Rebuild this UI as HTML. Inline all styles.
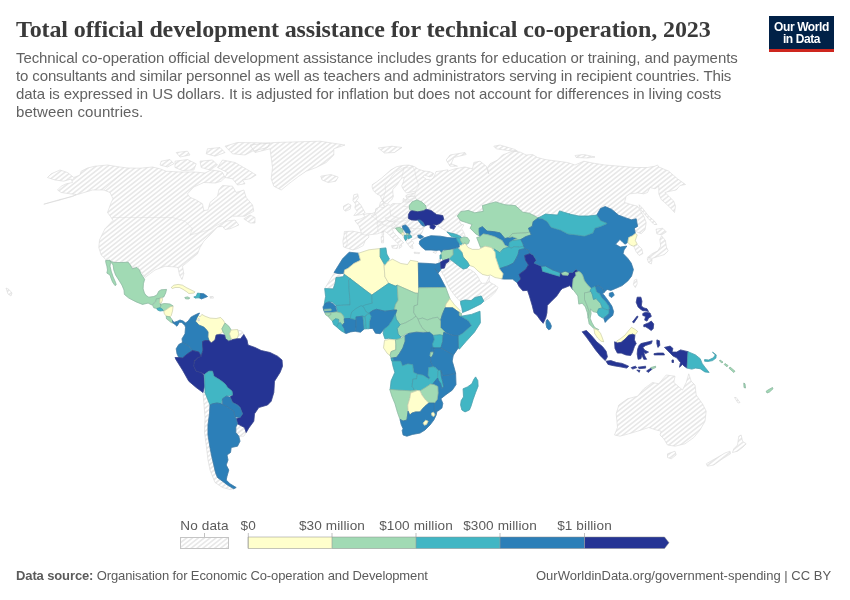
<!DOCTYPE html>
<html><head><meta charset="utf-8">
<style>
html,body{margin:0;padding:0;background:#fff;}
body{width:850px;height:600px;overflow:hidden;position:relative;font-family:"Liberation Sans",sans-serif;}
#title{position:absolute;left:16px;top:14.5px;margin:0;font-family:"Liberation Serif",serif;font-weight:bold;font-size:24px;line-height:29px;color:#3a3a3a;white-space:nowrap;letter-spacing:-0.115px;}
#sub{position:absolute;left:16px;top:49px;margin:0;font-size:15px;line-height:18px;color:#626262;white-space:nowrap;}
#logo{position:absolute;left:769px;top:16px;width:65px;height:33px;background:#002147;border-bottom:3px solid #ce261e;color:#fff;font-weight:bold;font-size:12px;line-height:12px;text-align:center;letter-spacing:-0.4px;}
#logo span{display:block;}
#logo .a{padding-top:4.5px;}
.ft{position:absolute;top:568.3px;font-size:13px;line-height:16px;color:#5b5b5b;white-space:nowrap;}
#map{position:absolute;left:0;top:0;}
#title,#sub,#logo,.ft,#map{will-change:transform;opacity:0.999;}
</style></head><body>
<h1 id="title">Total official development assistance for technical co-operation, 2023</h1>
<div id="sub"><span style="letter-spacing:-0.085px">Technical co-operation official development assistance includes grants for education or training, and payments</span><br><span style="letter-spacing:-0.125px">to consultants and similar personnel as well as teachers and administrators serving in recipient countries. This</span><br><span style="letter-spacing:-0.065px">data is expressed in US dollars. It is adjusted for inflation but does not account for differences in living costs</span><br><span style="letter-spacing:0.08px">between countries.</span></div>
<div id="logo"><span class="a">Our World</span><span>in Data</span></div>
<svg id="map" width="850" height="600" viewBox="0 0 850 600">
<defs>

</defs>
<!--MAP-->
<clipPath id="nd"><path d="M352.9 250.0L348.2 248.5L343.5 247.0L342.9 240.9L344.0 235.3L344.4 231.5L352.9 231.2L361.4 233.0L359.1 225.9L354.8 220.6L361.4 218.7L365.1 216.5L363.2 214.6L367.9 213.6L371.7 213.6L375.5 212.3L375.7 208.8L379.2 207.1L380.4 202.3L382.8 200.6L384.2 202.3L383.7 205.9L385.7 206.1L388.1 204.7L390.4 205.3L392.8 203.5L397.0 203.8L401.1 203.5L402.9 201.7L403.5 198.2L405.2 200.0L407.0 198.8L405.8 195.8L407.6 194.6L410.6 194.1L415.3 192.6L414.7 191.1L409.4 192.6L406.4 192.9L405.2 191.7L402.9 188.7L401.7 185.8L403.5 181.6L404.1 177.5L401.7 178.1L399.3 181.6L396.4 185.8L392.8 189.3L392.8 192.9L393.4 196.4L391.6 200.0L389.3 201.7L387.5 204.1L385.1 203.5L382.8 201.7L381.6 198.8L379.8 195.2L376.8 194.1L373.3 190.5L372.1 187.0L372.3 184.6L376.2 182.2L381.6 178.1L386.3 173.9L391.0 169.8L396.4 166.8L402.9 165.4L408.8 165.1L412.3 165.9L414.7 166.8L418.3 169.2L424.2 171.0L429.5 171.6L433.6 173.3L432.5 175.7L429.5 176.9L426.5 175.7L424.2 175.1L423.0 176.9L426.5 179.3L430.7 179.9L433.0 178.1L434.8 175.1L436.0 171.6L440.7 171.0L447.8 169.8L447.5 171.2L455.0 168.8L465.0 167.0L472.5 168.8L473.8 162.5L480.0 161.2L486.2 166.2L488.8 173.8L487.5 167.5L490.0 163.8L497.5 160.0L502.5 155.0L512.5 151.2L520.0 152.0L526.2 155.0L532.5 154.5L537.5 157.5L545.0 159.5L557.5 161.2L567.5 162.5L575.0 165.0L583.8 161.2L592.5 163.0L605.0 165.0L620.0 166.2L635.0 167.5L647.5 167.5L655.0 166.2L657.5 165.0L658.8 167.0L668.8 171.2L677.5 178.8L685.5 184.5L680.0 185.5L676.2 190.0L670.0 191.2L665.0 192.5L670.0 197.5L673.8 201.2L675.5 206.2L674.5 212.5L671.2 208.8L666.2 203.8L661.2 199.5L658.8 193.8L658.8 186.2L655.0 188.8L650.0 187.5L647.5 192.5L643.8 193.8L637.5 193.0L630.0 193.8L626.2 196.2L624.5 202.5L631.2 204.5L637.5 206.2L640.0 210.0L643.8 216.2L646.2 222.5L645.0 230.0L641.2 233.8L638.0 232.5L620.0 222.0L590.0 217.0L550.0 217.0L510.0 214.0L470.0 214.0L458.0 216.0L458.3 216.5L460.7 224.0L463.9 224.9L461.5 228.7L463.9 232.5L465.3 236.2L459.2 235.7L452.6 233.0L447.6 231.9L442.3 228.7L437.6 225.9L439.5 224.0L434.8 224.0L431.0 222.1L425.4 224.9L423.5 228.7L422.0 232.5L420.6 234.9L417.8 235.3L417.8 237.6L415.0 238.7L411.2 240.0L414.1 242.8L412.2 244.7L413.1 248.5L410.3 247.5L407.5 243.8L405.6 240.9L404.3 238.7L402.8 235.7L399.0 232.5L396.2 228.7L394.3 227.8L392.4 229.6L393.7 232.5L397.1 236.2L400.9 240.0L403.7 242.8L401.3 243.8L401.8 246.6L399.0 248.5L399.9 245.6L397.1 242.8L393.4 239.1L389.6 235.3L386.8 232.5L384.3 231.2L381.1 232.5L377.4 233.8L372.6 234.4L368.5 234.9L368.9 237.2L365.1 240.9L363.2 245.6L357.6 248.5Z M43.8 204.2L60.0 199.5L72.5 196.5L76.2 194.5L70.0 193.8L61.2 192.5L57.5 190.0L61.2 186.2L66.2 183.8L72.5 182.5L71.2 179.0L63.8 181.2L55.0 180.0L47.5 177.5L51.2 173.8L60.0 170.0L67.5 172.5L73.8 177.5L80.0 175.0L81.2 171.2L87.5 168.0L95.0 166.2L107.5 165.0L120.0 167.0L127.5 168.0L140.0 168.2L152.5 167.0L160.0 168.8L166.2 171.2L180.0 172.0L195.0 172.0L205.0 173.0L211.2 170.0L220.0 171.2L222.5 172.5L225.0 177.5L221.2 181.2L215.5 183.0L203.8 182.5L193.8 187.0L187.5 193.8L189.5 197.0L196.2 200.0L202.5 203.8L203.8 210.5L208.0 210.0L210.0 202.5L217.5 196.2L219.0 189.5L222.5 185.5L232.5 186.2L236.2 192.5L243.8 190.0L246.2 197.5L252.5 205.0L253.8 211.2L248.8 213.8L245.0 216.2L232.5 216.2L225.0 221.2L235.0 220.0L238.8 225.0L230.0 228.8L225.0 229.5L222.5 226.2L217.5 227.0L210.0 235.0L203.8 241.2L200.0 247.5L197.5 253.8L190.0 260.0L182.5 266.2L183.8 273.8L182.0 279.5L179.5 275.0L178.0 267.5L175.0 267.0L165.0 266.2L155.0 270.0L145.0 277.5L142.5 273.8L137.5 267.0L132.5 267.5L128.8 262.5L117.5 262.5L106.2 260.0L101.2 255.0L98.8 247.5L99.5 240.0L105.0 228.8L113.0 220.5L111.2 217.5L107.5 212.5L111.2 202.5L113.0 198.8L110.0 192.5L103.8 190.0L92.5 190.0L77.5 194.5L60.0 200.0Z M270.0 148.8L255.0 152.5L250.0 145.0L275.0 142.5L320.0 141.2L345.0 145.0L333.8 148.8L333.8 155.0L326.2 162.5L316.2 167.5L306.2 171.2L298.8 176.2L288.8 183.8L281.2 190.0L273.8 186.2L271.2 178.8L272.5 167.5L271.2 157.5Z M320.8 176.2L330.8 174.5L338.2 177.0L335.8 181.2L328.2 182.5L322.0 180.0Z M243.8 218.8L250.0 215.0L255.0 217.5L255.0 223.0L250.0 223.0Z M222.5 160.0L235.0 162.5L250.0 171.2L256.2 175.0L250.0 178.8L242.5 180.0L245.0 183.8L237.5 185.0L232.5 178.8L225.0 177.5L227.5 172.5L217.5 167.5Z M175.0 161.2L187.5 159.5L196.2 163.8L193.8 170.0L182.5 170.5L175.0 167.5Z M161.2 161.2L170.0 159.5L173.8 163.8L167.5 167.0L160.0 165.0Z M225.0 146.2L237.5 142.5L270.0 143.0L267.5 147.5L252.5 151.2L245.0 155.0L232.5 153.8Z M200.0 161.2L212.5 160.0L217.5 165.0L210.0 170.0L201.2 167.5Z M207.5 148.8L220.0 147.5L225.0 152.5L215.0 156.2L206.2 153.8Z M176.2 152.5L187.5 151.2L190.0 155.0L180.0 157.0Z M210.0 296.5L213.1 296.5L213.5 298.1L210.2 298.2Z M237.5 330.0L242.0 331.2L243.8 334.5L240.5 338.8L237.0 338.8L238.8 333.8Z M237.5 423.8L244.5 427.5L246.2 432.5L243.8 436.2L238.8 436.2L235.8 432.5L235.8 427.0Z M203.0 392.5L205.0 392.5L207.0 397.5L210.0 405.0L209.5 413.8L208.0 425.0L208.0 435.0L210.0 447.5L212.0 457.5L213.8 465.0L215.5 472.5L217.5 477.5L222.5 481.2L227.5 485.0L233.8 488.8L230.0 489.5L222.5 487.5L215.0 482.5L210.0 470.0L208.0 460.0L206.2 445.0L204.5 432.5L205.0 417.5L203.8 402.5Z M324.7 288.6L334.1 273.1L343.5 273.5L343.5 276.7L336.0 277.6L335.1 283.3L333.2 288.9Z M633.8 246.3L637.6 244.8L641.9 248.9L642.8 253.6L639.1 255.5L636.2 251.8Z M656.0 229.2L662.6 228.2L666.4 232.0L661.6 234.8L656.9 233.9Z M661.6 235.8L665.4 240.5L666.4 247.1L668.2 250.8L664.5 254.6L657.9 256.5L652.2 258.4L647.5 257.4L652.2 253.6L657.9 250.8L660.7 246.1L659.8 239.5Z M647.2 258.7L652.2 259.5L651.3 264.0L648.5 262.5Z M639.1 204.7L642.8 208.5L648.5 216.0L654.1 220.7L656.9 224.5L654.1 224.5L648.5 218.8L643.8 213.2L640.0 208.5Z M634.4 280.0L636.8 279.1L637.2 283.8L635.3 287.5L633.4 284.7Z M439.0 259.4L440.6 259.0L440.6 268.5L440.0 269.4L438.8 265.0Z M440.0 269.4L441.0 268.5L444.4 268.1L445.6 263.8L449.0 261.2L451.9 260.6L457.5 265.0L463.1 269.0L466.9 268.1L468.1 269.0L470.6 269.8L475.0 272.8L478.5 277.5L480.0 281.5L482.5 283.4L486.2 283.1L488.2 279.0L489.5 276.2L489.0 280.0L490.0 282.5L495.0 285.0L498.1 287.5L495.0 292.5L490.0 297.5L485.0 300.6L483.8 301.2L481.2 296.0L475.0 297.5L471.2 300.6L465.0 300.0L460.6 301.2L460.0 301.2L457.5 298.8L454.4 295.0L450.6 290.0L446.9 283.1L445.0 277.5L441.9 272.5Z M353.8 194.8L357.6 193.9L358.5 197.6L356.6 200.5L360.4 204.2L363.2 209.3L365.1 212.7L361.4 214.6L353.8 215.5L357.2 211.2L354.8 208.0L355.7 204.2L352.9 200.5Z M343.5 206.1L348.2 203.7L351.0 205.2L350.1 209.3L345.4 211.2L343.5 209.3Z M381.1 236.8L383.6 236.2L383.6 242.8L381.5 242.8Z M382.1 231.5L383.6 231.2L383.6 235.3L382.1 235.3Z M391.5 245.6L398.1 245.1L397.1 248.5L392.4 248.1Z M414.1 252.2L419.7 252.6L419.3 253.7L414.4 253.4Z M432.9 252.2L437.0 251.1L435.9 253.4Z M378.2 148.0L392.0 146.2L402.0 147.5L394.5 152.5L384.5 153.0Z M446.2 160.0L450.0 155.0L465.0 152.5L466.2 154.5L453.8 157.5L451.2 163.8L457.5 166.2L450.0 166.2Z M493.8 146.2L500.0 145.0L515.0 149.5L517.5 151.2L507.5 150.5L496.2 148.8Z M575.0 155.5L583.8 154.5L595.0 157.0L587.5 158.0L576.2 157.5Z M614.5 435.0L617.5 427.5L616.2 413.8L618.8 405.0L627.5 398.8L637.5 396.2L643.8 388.8L652.5 382.5L658.8 383.8L666.2 375.0L675.0 376.2L673.8 382.5L682.5 390.0L686.2 382.5L688.8 373.8L691.2 381.2L695.0 385.0L696.2 395.0L702.5 403.8L706.2 411.2L705.0 421.2L700.0 430.0L693.8 437.5L685.0 443.8L675.0 446.2L667.5 445.0L663.8 438.8L660.0 435.0L661.2 431.2L656.2 430.0L648.8 427.5L637.5 431.2L628.8 433.8L620.0 436.2Z M667.5 453.8L675.0 451.2L676.2 455.0L671.2 458.8L667.5 457.5Z M738.8 436.2L741.2 435.0L742.5 441.2L746.2 443.8L742.5 447.5L737.5 451.2L732.5 452.5L733.8 448.8L737.5 445.0Z M706.2 463.8L715.0 458.8L725.0 453.0L730.0 451.2L730.5 453.8L722.5 458.8L713.8 465.0L707.5 466.2Z M734.5 397.5L736.2 397.5L740.0 402.5L738.0 403.0Z M6.0 288.0L9.0 289.5L12.0 293.0L11.0 296.0L8.0 294.0Z M180.5 537.5h48v11h-48Z"/></clipPath>
<g stroke-linejoin="round">
<path d="M-563.44 560 L-10.00 125 M-557.57 560 L-4.13 125 M-551.70 560 L1.74 125 M-545.83 560 L7.61 125 M-539.96 560 L13.48 125 M-534.09 560 L19.35 125 M-528.22 560 L25.22 125 M-522.35 560 L31.09 125 M-516.48 560 L36.96 125 M-510.61 560 L42.83 125 M-504.74 560 L48.70 125 M-498.87 560 L54.57 125 M-493.00 560 L60.44 125 M-487.13 560 L66.31 125 M-481.26 560 L72.18 125 M-475.39 560 L78.05 125 M-469.52 560 L83.92 125 M-463.65 560 L89.79 125 M-457.78 560 L95.66 125 M-451.91 560 L101.53 125 M-446.04 560 L107.40 125 M-440.17 560 L113.27 125 M-434.30 560 L119.14 125 M-428.43 560 L125.01 125 M-422.56 560 L130.88 125 M-416.69 560 L136.75 125 M-410.82 560 L142.62 125 M-404.95 560 L148.49 125 M-399.08 560 L154.36 125 M-393.21 560 L160.23 125 M-387.34 560 L166.10 125 M-381.47 560 L171.97 125 M-375.60 560 L177.84 125 M-369.73 560 L183.71 125 M-363.86 560 L189.58 125 M-357.99 560 L195.45 125 M-352.12 560 L201.32 125 M-346.25 560 L207.19 125 M-340.38 560 L213.06 125 M-334.51 560 L218.93 125 M-328.64 560 L224.80 125 M-322.77 560 L230.67 125 M-316.90 560 L236.54 125 M-311.03 560 L242.41 125 M-305.16 560 L248.28 125 M-299.29 560 L254.15 125 M-293.42 560 L260.02 125 M-287.55 560 L265.89 125 M-281.68 560 L271.76 125 M-275.81 560 L277.63 125 M-269.94 560 L283.50 125 M-264.07 560 L289.37 125 M-258.20 560 L295.24 125 M-252.33 560 L301.11 125 M-246.46 560 L306.98 125 M-240.59 560 L312.85 125 M-234.72 560 L318.72 125 M-228.85 560 L324.59 125 M-222.98 560 L330.46 125 M-217.11 560 L336.33 125 M-211.24 560 L342.20 125 M-205.37 560 L348.07 125 M-199.50 560 L353.94 125 M-193.63 560 L359.81 125 M-187.76 560 L365.68 125 M-181.89 560 L371.55 125 M-176.02 560 L377.42 125 M-170.15 560 L383.29 125 M-164.28 560 L389.16 125 M-158.41 560 L395.03 125 M-152.54 560 L400.90 125 M-146.67 560 L406.77 125 M-140.80 560 L412.64 125 M-134.93 560 L418.51 125 M-129.06 560 L424.38 125 M-123.19 560 L430.25 125 M-117.32 560 L436.12 125 M-111.45 560 L441.99 125 M-105.58 560 L447.86 125 M-99.71 560 L453.73 125 M-93.84 560 L459.60 125 M-87.97 560 L465.47 125 M-82.10 560 L471.34 125 M-76.23 560 L477.21 125 M-70.36 560 L483.08 125 M-64.49 560 L488.95 125 M-58.62 560 L494.82 125 M-52.75 560 L500.69 125 M-46.88 560 L506.56 125 M-41.01 560 L512.43 125 M-35.14 560 L518.30 125 M-29.27 560 L524.17 125 M-23.40 560 L530.04 125 M-17.53 560 L535.91 125 M-11.66 560 L541.78 125 M-5.79 560 L547.65 125 M0.08 560 L553.52 125 M5.95 560 L559.39 125 M11.82 560 L565.26 125 M17.69 560 L571.13 125 M23.56 560 L577.00 125 M29.43 560 L582.87 125 M35.30 560 L588.74 125 M41.17 560 L594.61 125 M47.04 560 L600.48 125 M52.91 560 L606.35 125 M58.78 560 L612.22 125 M64.65 560 L618.09 125 M70.52 560 L623.96 125 M76.39 560 L629.83 125 M82.26 560 L635.70 125 M88.13 560 L641.57 125 M94.00 560 L647.44 125 M99.87 560 L653.31 125 M105.74 560 L659.18 125 M111.61 560 L665.05 125 M117.48 560 L670.92 125 M123.35 560 L676.79 125 M129.22 560 L682.66 125 M135.09 560 L688.53 125 M140.96 560 L694.40 125 M146.83 560 L700.27 125 M152.70 560 L706.14 125 M158.57 560 L712.01 125 M164.44 560 L717.88 125 M170.31 560 L723.75 125 M176.18 560 L729.62 125 M182.05 560 L735.49 125 M187.92 560 L741.36 125 M193.79 560 L747.23 125 M199.66 560 L753.10 125 M205.53 560 L758.97 125 M211.40 560 L764.84 125 M217.27 560 L770.71 125 M223.14 560 L776.58 125 M229.01 560 L782.45 125 M234.88 560 L788.32 125 M240.75 560 L794.19 125 M246.62 560 L800.06 125 M252.49 560 L805.93 125 M258.36 560 L811.80 125 M264.23 560 L817.67 125 M270.10 560 L823.54 125 M275.97 560 L829.41 125 M281.84 560 L835.28 125 M287.71 560 L841.15 125 M293.58 560 L847.02 125 M299.45 560 L852.89 125 M305.32 560 L858.76 125 M311.19 560 L864.63 125 M317.06 560 L870.50 125 M322.93 560 L876.37 125 M328.80 560 L882.24 125 M334.67 560 L888.11 125 M340.54 560 L893.98 125 M346.41 560 L899.85 125 M352.28 560 L905.72 125 M358.15 560 L911.59 125 M364.02 560 L917.46 125 M369.89 560 L923.33 125 M375.76 560 L929.20 125 M381.63 560 L935.07 125 M387.50 560 L940.94 125 M393.37 560 L946.81 125 M399.24 560 L952.68 125 M405.11 560 L958.55 125 M410.98 560 L964.42 125 M416.85 560 L970.29 125 M422.72 560 L976.16 125 M428.59 560 L982.03 125 M434.46 560 L987.90 125 M440.33 560 L993.77 125 M446.20 560 L999.64 125 M452.07 560 L1005.51 125 M457.94 560 L1011.38 125 M463.81 560 L1017.25 125 M469.68 560 L1023.12 125 M475.55 560 L1028.99 125 M481.42 560 L1034.86 125 M487.29 560 L1040.73 125 M493.16 560 L1046.60 125 M499.03 560 L1052.47 125 M504.90 560 L1058.34 125 M510.77 560 L1064.21 125 M516.64 560 L1070.08 125 M522.51 560 L1075.95 125 M528.38 560 L1081.82 125 M534.25 560 L1087.69 125 M540.12 560 L1093.56 125 M545.99 560 L1099.43 125 M551.86 560 L1105.30 125 M557.73 560 L1111.17 125 M563.60 560 L1117.04 125 M569.47 560 L1122.91 125 M575.34 560 L1128.78 125 M581.21 560 L1134.65 125 M587.08 560 L1140.52 125 M592.95 560 L1146.39 125 M598.82 560 L1152.26 125 M604.69 560 L1158.13 125 M610.56 560 L1164.00 125 M616.43 560 L1169.87 125 M622.30 560 L1175.74 125 M628.17 560 L1181.61 125 M634.04 560 L1187.48 125 M639.91 560 L1193.35 125 M645.78 560 L1199.22 125 M651.65 560 L1205.09 125 M657.52 560 L1210.96 125 M663.39 560 L1216.83 125 M669.26 560 L1222.70 125 M675.13 560 L1228.57 125 M681.00 560 L1234.44 125 M686.87 560 L1240.31 125 M692.74 560 L1246.18 125 M698.61 560 L1252.05 125 M704.48 560 L1257.92 125 M710.35 560 L1263.79 125 M716.22 560 L1269.66 125 M722.09 560 L1275.53 125 M727.96 560 L1281.40 125 M733.83 560 L1287.27 125 M739.70 560 L1293.14 125 M745.57 560 L1299.01 125 M751.44 560 L1304.88 125 M757.31 560 L1310.75 125 M763.18 560 L1316.62 125 M769.05 560 L1322.49 125 M774.92 560 L1328.36 125 M780.79 560 L1334.23 125 M786.66 560 L1340.10 125 M792.53 560 L1345.97 125 M798.40 560 L1351.84 125 M804.27 560 L1357.71 125 M810.14 560 L1363.58 125 M816.01 560 L1369.45 125 M821.88 560 L1375.32 125 M827.75 560 L1381.19 125 M833.62 560 L1387.06 125 M839.49 560 L1392.93 125 M845.36 560 L1398.80 125 M851.23 560 L1404.67 125 M857.10 560 L1410.54 125" fill="none" stroke="#e8e8e8" stroke-width="1.65" clip-path="url(#nd)"/>
<path d="M460.7 226.4L466.4 223.5L471.1 225.4L470.1 229.2L474.8 234.8L477.6 237.6L478.6 242.4L479.5 247.1L474.8 248.6L471.1 248.0L470.1 243.3L468.2 240.5L464.5 236.7L463.5 232.0L461.1 229.2Z" fill="#fff"/>
<path d="M352.9 250.0L348.2 248.5L343.5 247.0L342.9 240.9L344.0 235.3L344.4 231.5L352.9 231.2L361.4 233.0L359.1 225.9L354.8 220.6L361.4 218.7L365.1 216.5L363.2 214.6L367.9 213.6L371.7 213.6L375.5 212.3L375.7 208.8L379.2 207.1L380.4 202.3L382.8 200.6L384.2 202.3L383.7 205.9L385.7 206.1L388.1 204.7L390.4 205.3L392.8 203.5L397.0 203.8L401.1 203.5L402.9 201.7L403.5 198.2L405.2 200.0L407.0 198.8L405.8 195.8L407.6 194.6L410.6 194.1L415.3 192.6L414.7 191.1L409.4 192.6L406.4 192.9L405.2 191.7L402.9 188.7L401.7 185.8L403.5 181.6L404.1 177.5L401.7 178.1L399.3 181.6L396.4 185.8L392.8 189.3L392.8 192.9L393.4 196.4L391.6 200.0L389.3 201.7L387.5 204.1L385.1 203.5L382.8 201.7L381.6 198.8L379.8 195.2L376.8 194.1L373.3 190.5L372.1 187.0L372.3 184.6L376.2 182.2L381.6 178.1L386.3 173.9L391.0 169.8L396.4 166.8L402.9 165.4L408.8 165.1L412.3 165.9L414.7 166.8L418.3 169.2L424.2 171.0L429.5 171.6L433.6 173.3L432.5 175.7L429.5 176.9L426.5 175.7L424.2 175.1L423.0 176.9L426.5 179.3L430.7 179.9L433.0 178.1L434.8 175.1L436.0 171.6L440.7 171.0L447.8 169.8L447.5 171.2L455.0 168.8L465.0 167.0L472.5 168.8L473.8 162.5L480.0 161.2L486.2 166.2L488.8 173.8L487.5 167.5L490.0 163.8L497.5 160.0L502.5 155.0L512.5 151.2L520.0 152.0L526.2 155.0L532.5 154.5L537.5 157.5L545.0 159.5L557.5 161.2L567.5 162.5L575.0 165.0L583.8 161.2L592.5 163.0L605.0 165.0L620.0 166.2L635.0 167.5L647.5 167.5L655.0 166.2L657.5 165.0L658.8 167.0L668.8 171.2L677.5 178.8L685.5 184.5L680.0 185.5L676.2 190.0L670.0 191.2L665.0 192.5L670.0 197.5L673.8 201.2L675.5 206.2L674.5 212.5L671.2 208.8L666.2 203.8L661.2 199.5L658.8 193.8L658.8 186.2L655.0 188.8L650.0 187.5L647.5 192.5L643.8 193.8L637.5 193.0L630.0 193.8L626.2 196.2L624.5 202.5L631.2 204.5L637.5 206.2L640.0 210.0L643.8 216.2L646.2 222.5L645.0 230.0L641.2 233.8L638.0 232.5L620.0 222.0L590.0 217.0L550.0 217.0L510.0 214.0L470.0 214.0L458.0 216.0L458.3 216.5L460.7 224.0L463.9 224.9L461.5 228.7L463.9 232.5L465.3 236.2L459.2 235.7L452.6 233.0L447.6 231.9L442.3 228.7L437.6 225.9L439.5 224.0L434.8 224.0L431.0 222.1L425.4 224.9L423.5 228.7L422.0 232.5L420.6 234.9L417.8 235.3L417.8 237.6L415.0 238.7L411.2 240.0L414.1 242.8L412.2 244.7L413.1 248.5L410.3 247.5L407.5 243.8L405.6 240.9L404.3 238.7L402.8 235.7L399.0 232.5L396.2 228.7L394.3 227.8L392.4 229.6L393.7 232.5L397.1 236.2L400.9 240.0L403.7 242.8L401.3 243.8L401.8 246.6L399.0 248.5L399.9 245.6L397.1 242.8L393.4 239.1L389.6 235.3L386.8 232.5L384.3 231.2L381.1 232.5L377.4 233.8L372.6 234.4L368.5 234.9L368.9 237.2L365.1 240.9L363.2 245.6L357.6 248.5Z M43.8 204.2L60.0 199.5L72.5 196.5L76.2 194.5L70.0 193.8L61.2 192.5L57.5 190.0L61.2 186.2L66.2 183.8L72.5 182.5L71.2 179.0L63.8 181.2L55.0 180.0L47.5 177.5L51.2 173.8L60.0 170.0L67.5 172.5L73.8 177.5L80.0 175.0L81.2 171.2L87.5 168.0L95.0 166.2L107.5 165.0L120.0 167.0L127.5 168.0L140.0 168.2L152.5 167.0L160.0 168.8L166.2 171.2L180.0 172.0L195.0 172.0L205.0 173.0L211.2 170.0L220.0 171.2L222.5 172.5L225.0 177.5L221.2 181.2L215.5 183.0L203.8 182.5L193.8 187.0L187.5 193.8L189.5 197.0L196.2 200.0L202.5 203.8L203.8 210.5L208.0 210.0L210.0 202.5L217.5 196.2L219.0 189.5L222.5 185.5L232.5 186.2L236.2 192.5L243.8 190.0L246.2 197.5L252.5 205.0L253.8 211.2L248.8 213.8L245.0 216.2L232.5 216.2L225.0 221.2L235.0 220.0L238.8 225.0L230.0 228.8L225.0 229.5L222.5 226.2L217.5 227.0L210.0 235.0L203.8 241.2L200.0 247.5L197.5 253.8L190.0 260.0L182.5 266.2L183.8 273.8L182.0 279.5L179.5 275.0L178.0 267.5L175.0 267.0L165.0 266.2L155.0 270.0L145.0 277.5L142.5 273.8L137.5 267.0L132.5 267.5L128.8 262.5L117.5 262.5L106.2 260.0L101.2 255.0L98.8 247.5L99.5 240.0L105.0 228.8L113.0 220.5L111.2 217.5L107.5 212.5L111.2 202.5L113.0 198.8L110.0 192.5L103.8 190.0L92.5 190.0L77.5 194.5L60.0 200.0Z M270.0 148.8L255.0 152.5L250.0 145.0L275.0 142.5L320.0 141.2L345.0 145.0L333.8 148.8L333.8 155.0L326.2 162.5L316.2 167.5L306.2 171.2L298.8 176.2L288.8 183.8L281.2 190.0L273.8 186.2L271.2 178.8L272.5 167.5L271.2 157.5Z M320.8 176.2L330.8 174.5L338.2 177.0L335.8 181.2L328.2 182.5L322.0 180.0Z M243.8 218.8L250.0 215.0L255.0 217.5L255.0 223.0L250.0 223.0Z M222.5 160.0L235.0 162.5L250.0 171.2L256.2 175.0L250.0 178.8L242.5 180.0L245.0 183.8L237.5 185.0L232.5 178.8L225.0 177.5L227.5 172.5L217.5 167.5Z M175.0 161.2L187.5 159.5L196.2 163.8L193.8 170.0L182.5 170.5L175.0 167.5Z M161.2 161.2L170.0 159.5L173.8 163.8L167.5 167.0L160.0 165.0Z M225.0 146.2L237.5 142.5L270.0 143.0L267.5 147.5L252.5 151.2L245.0 155.0L232.5 153.8Z M200.0 161.2L212.5 160.0L217.5 165.0L210.0 170.0L201.2 167.5Z M207.5 148.8L220.0 147.5L225.0 152.5L215.0 156.2L206.2 153.8Z M176.2 152.5L187.5 151.2L190.0 155.0L180.0 157.0Z M210.0 296.5L213.1 296.5L213.5 298.1L210.2 298.2Z M237.5 330.0L242.0 331.2L243.8 334.5L240.5 338.8L237.0 338.8L238.8 333.8Z M237.5 423.8L244.5 427.5L246.2 432.5L243.8 436.2L238.8 436.2L235.8 432.5L235.8 427.0Z M203.0 392.5L205.0 392.5L207.0 397.5L210.0 405.0L209.5 413.8L208.0 425.0L208.0 435.0L210.0 447.5L212.0 457.5L213.8 465.0L215.5 472.5L217.5 477.5L222.5 481.2L227.5 485.0L233.8 488.8L230.0 489.5L222.5 487.5L215.0 482.5L210.0 470.0L208.0 460.0L206.2 445.0L204.5 432.5L205.0 417.5L203.8 402.5Z M324.7 288.6L334.1 273.1L343.5 273.5L343.5 276.7L336.0 277.6L335.1 283.3L333.2 288.9Z M633.8 246.3L637.6 244.8L641.9 248.9L642.8 253.6L639.1 255.5L636.2 251.8Z M656.0 229.2L662.6 228.2L666.4 232.0L661.6 234.8L656.9 233.9Z M661.6 235.8L665.4 240.5L666.4 247.1L668.2 250.8L664.5 254.6L657.9 256.5L652.2 258.4L647.5 257.4L652.2 253.6L657.9 250.8L660.7 246.1L659.8 239.5Z M647.2 258.7L652.2 259.5L651.3 264.0L648.5 262.5Z M639.1 204.7L642.8 208.5L648.5 216.0L654.1 220.7L656.9 224.5L654.1 224.5L648.5 218.8L643.8 213.2L640.0 208.5Z M634.4 280.0L636.8 279.1L637.2 283.8L635.3 287.5L633.4 284.7Z M439.0 259.4L440.6 259.0L440.6 268.5L440.0 269.4L438.8 265.0Z M440.0 269.4L441.0 268.5L444.4 268.1L445.6 263.8L449.0 261.2L451.9 260.6L457.5 265.0L463.1 269.0L466.9 268.1L468.1 269.0L470.6 269.8L475.0 272.8L478.5 277.5L480.0 281.5L482.5 283.4L486.2 283.1L488.2 279.0L489.5 276.2L489.0 280.0L490.0 282.5L495.0 285.0L498.1 287.5L495.0 292.5L490.0 297.5L485.0 300.6L483.8 301.2L481.2 296.0L475.0 297.5L471.2 300.6L465.0 300.0L460.6 301.2L460.0 301.2L457.5 298.8L454.4 295.0L450.6 290.0L446.9 283.1L445.0 277.5L441.9 272.5Z M353.8 194.8L357.6 193.9L358.5 197.6L356.6 200.5L360.4 204.2L363.2 209.3L365.1 212.7L361.4 214.6L353.8 215.5L357.2 211.2L354.8 208.0L355.7 204.2L352.9 200.5Z M343.5 206.1L348.2 203.7L351.0 205.2L350.1 209.3L345.4 211.2L343.5 209.3Z M381.1 236.8L383.6 236.2L383.6 242.8L381.5 242.8Z M382.1 231.5L383.6 231.2L383.6 235.3L382.1 235.3Z M391.5 245.6L398.1 245.1L397.1 248.5L392.4 248.1Z M414.1 252.2L419.7 252.6L419.3 253.7L414.4 253.4Z M432.9 252.2L437.0 251.1L435.9 253.4Z M378.2 148.0L392.0 146.2L402.0 147.5L394.5 152.5L384.5 153.0Z M446.2 160.0L450.0 155.0L465.0 152.5L466.2 154.5L453.8 157.5L451.2 163.8L457.5 166.2L450.0 166.2Z M493.8 146.2L500.0 145.0L515.0 149.5L517.5 151.2L507.5 150.5L496.2 148.8Z M575.0 155.5L583.8 154.5L595.0 157.0L587.5 158.0L576.2 157.5Z M614.5 435.0L617.5 427.5L616.2 413.8L618.8 405.0L627.5 398.8L637.5 396.2L643.8 388.8L652.5 382.5L658.8 383.8L666.2 375.0L675.0 376.2L673.8 382.5L682.5 390.0L686.2 382.5L688.8 373.8L691.2 381.2L695.0 385.0L696.2 395.0L702.5 403.8L706.2 411.2L705.0 421.2L700.0 430.0L693.8 437.5L685.0 443.8L675.0 446.2L667.5 445.0L663.8 438.8L660.0 435.0L661.2 431.2L656.2 430.0L648.8 427.5L637.5 431.2L628.8 433.8L620.0 436.2Z M667.5 453.8L675.0 451.2L676.2 455.0L671.2 458.8L667.5 457.5Z M738.8 436.2L741.2 435.0L742.5 441.2L746.2 443.8L742.5 447.5L737.5 451.2L732.5 452.5L733.8 448.8L737.5 445.0Z M706.2 463.8L715.0 458.8L725.0 453.0L730.0 451.2L730.5 453.8L722.5 458.8L713.8 465.0L707.5 466.2Z M734.5 397.5L736.2 397.5L740.0 402.5L738.0 403.0Z M6.0 288.0L9.0 289.5L12.0 293.0L11.0 296.0L8.0 294.0Z" fill="none" stroke="#d8d8d8" stroke-width="0.6"/>
<path d="M127.5 168.0L103.8 190.0 M113.0 217.5L172.5 217.5L185.0 221.2L192.5 228.8L190.0 235.0L200.0 232.5L212.5 228.8L215.0 226.2L225.0 221.2 M346.9 232.5L346.2 237.5L347.5 242.5L345.6 247.5 M360.6 233.8L364.4 234.8L368.1 235.2 M371.2 215.6L373.8 217.5L376.2 219.4L378.1 221.2L376.9 224.4L378.1 226.9L377.5 230.6L378.8 232.5 M371.2 215.6L374.4 213.8L376.2 215.0L376.2 219.4 M374.4 213.8L375.6 210.6L378.1 209.4 M390.0 208.8L390.6 215.0L388.8 216.9L385.0 218.1L387.5 220.6L390.0 221.2 M378.1 221.2L381.9 221.9L385.0 221.2L387.5 220.6 M376.9 224.4L378.8 222.5L381.9 221.9L383.1 224.4L380.0 225.6L378.1 226.9 M383.1 224.4L386.2 226.0L391.2 226.2L395.0 224.4L394.4 221.9L390.0 221.2 M390.6 215.0L395.0 216.9L398.8 218.1L405.0 218.1L408.8 217.5 M387.5 220.6L391.2 221.9L395.0 220.0L398.8 218.1 M395.0 220.0L395.0 221.9L400.0 221.9L405.0 220.6L408.8 219.4 M395.0 224.4L397.5 226.9L402.5 226.2L406.2 223.8L408.8 221.2 M391.2 226.2L393.8 227.8L395.6 227.2L397.5 226.9 M391.2 228.1L395.0 228.8L397.5 227.8L402.5 228.1L402.5 226.2 M406.2 223.8L408.1 226.9L411.2 228.1L415.0 228.8L421.2 228.5L424.4 226.9 M408.8 221.2L410.0 220.0L416.2 219.4L421.2 220.6 M411.2 228.1L410.6 231.2L411.9 233.8L415.0 234.4L420.0 233.8L422.5 231.2 M407.5 238.1L411.9 236.2L415.0 234.4 M402.5 206.2L408.8 206.9 M405.0 201.2L412.5 200.6L415.0 202.5 M406.2 196.9L412.5 196.2L416.2 197.5 M382.8 201.7L383.9 196.4L385.7 190.5L385.1 185.8L388.7 181.0L391.6 176.3L396.0 171.6L400.5 169.2L404.1 167.4 M401.7 178.1L402.9 172.8L404.1 167.4L408.8 168.0L412.3 165.9 M412.3 165.9L414.7 170.4L415.9 176.3L417.7 182.2L418.8 185.8L415.3 191.1 M415.3 192.6L414.7 195.8L415.9 198.2L417.1 200.6L414.7 202.3 M405.8 195.8L410.6 196.4L414.7 195.8 M405.2 200.0L410.0 199.4L415.9 198.2 M402.9 201.7L406.4 202.3L410.6 201.7L414.7 202.3 M380.4 207.1L383.9 207.7" fill="none" stroke="#dadada" stroke-width="0.5"/>
<path d="M105.6 260.6L110.0 260.2L110.6 262.5L110.0 266.2L111.2 271.2L113.1 276.9L115.6 282.5L116.2 284.8L115.0 285.6L112.5 281.9L111.0 278.1L110.0 275.0L106.9 273.1L107.5 270.0L106.9 266.2L106.0 263.1Z" fill="#a1dab4" stroke="#a1dab4" stroke-width="0.7"/><path d="M105.6 260.6L110.0 260.2L110.6 262.5L110.0 266.2L111.2 271.2L113.1 276.9L115.6 282.5L116.2 284.8L115.0 285.6L112.5 281.9L111.0 278.1L110.0 275.0L106.9 273.1L107.5 270.0L106.9 266.2L106.0 263.1Z" fill="none" stroke="#5a6570" stroke-width="0.3" stroke-opacity="0.75"/>
<path d="M110.2 261.2L113.8 262.5L121.9 262.5L128.1 262.2L130.6 265.6L132.5 268.8L136.9 267.5L139.4 270.0L140.6 273.1L143.1 276.9L144.6 279.4L143.4 283.8L143.1 288.8L144.4 293.1L146.2 295.6L148.8 297.2L153.8 296.5L156.9 295.0L158.8 291.2L161.2 289.8L166.5 289.4L165.6 293.1L163.8 296.9L160.0 298.1L157.5 298.8L156.0 300.6L153.8 303.1L151.9 305.0L148.1 303.1L142.5 304.4L136.2 301.9L128.8 298.1L124.4 294.4L124.0 290.0L121.9 285.0L118.8 280.0L115.6 275.0L113.8 270.0L113.1 265.0Z" fill="#a1dab4" stroke="#a1dab4" stroke-width="0.7"/><path d="M110.2 261.2L113.8 262.5L121.9 262.5L128.1 262.2L130.6 265.6L132.5 268.8L136.9 267.5L139.4 270.0L140.6 273.1L143.1 276.9L144.6 279.4L143.4 283.8L143.1 288.8L144.4 293.1L146.2 295.6L148.8 297.2L153.8 296.5L156.9 295.0L158.8 291.2L161.2 289.8L166.5 289.4L165.6 293.1L163.8 296.9L160.0 298.1L157.5 298.8L156.0 300.6L153.8 303.1L151.9 305.0L148.1 303.1L142.5 304.4L136.2 301.9L128.8 298.1L124.4 294.4L124.0 290.0L121.9 285.0L118.8 280.0L115.6 275.0L113.8 270.0L113.1 265.0Z" fill="none" stroke="#5a6570" stroke-width="0.3" stroke-opacity="0.75"/>
<path d="M152.5 305.0L155.6 301.9L156.2 298.8L160.0 298.5L159.8 303.1L161.2 305.0L160.0 307.8L156.9 308.5L153.8 307.8Z" fill="#a1dab4" stroke="#a1dab4" stroke-width="0.7"/><path d="M152.5 305.0L155.6 301.9L156.2 298.8L160.0 298.5L159.8 303.1L161.2 305.0L160.0 307.8L156.9 308.5L153.8 307.8Z" fill="none" stroke="#5a6570" stroke-width="0.3" stroke-opacity="0.75"/>
<path d="M160.0 298.5L162.2 297.8L162.5 300.0L161.2 303.1L159.8 303.1Z" fill="#ffffcc" stroke="#ffffcc" stroke-width="0.7"/><path d="M160.0 298.5L162.2 297.8L162.5 300.0L161.2 303.1L159.8 303.1Z" fill="none" stroke="#5a6570" stroke-width="0.3" stroke-opacity="0.75"/>
<path d="M160.0 304.4L164.4 303.5L170.0 304.0L173.1 306.0L170.0 306.9L167.5 308.8L163.8 311.2L162.2 309.0L160.0 307.8L161.2 305.0Z" fill="#a1dab4" stroke="#a1dab4" stroke-width="0.7"/><path d="M160.0 304.4L164.4 303.5L170.0 304.0L173.1 306.0L170.0 306.9L167.5 308.8L163.8 311.2L162.2 309.0L160.0 307.8L161.2 305.0Z" fill="none" stroke="#5a6570" stroke-width="0.3" stroke-opacity="0.75"/>
<path d="M156.9 308.5L160.0 307.8L162.2 309.0L163.1 310.6L160.0 311.0L157.5 310.0Z" fill="#41b6c4" stroke="#41b6c4" stroke-width="0.7"/><path d="M156.9 308.5L160.0 307.8L162.2 309.0L163.1 310.6L160.0 311.0L157.5 310.0Z" fill="none" stroke="#5a6570" stroke-width="0.3" stroke-opacity="0.75"/>
<path d="M163.8 311.2L167.5 308.8L170.0 306.9L173.1 306.2L172.5 311.2L171.2 315.6L170.0 316.9L166.2 316.2L164.4 313.8Z" fill="#ffffcc" stroke="#ffffcc" stroke-width="0.7"/><path d="M163.8 311.2L167.5 308.8L170.0 306.9L173.1 306.2L172.5 311.2L171.2 315.6L170.0 316.9L166.2 316.2L164.4 313.8Z" fill="none" stroke="#5a6570" stroke-width="0.3" stroke-opacity="0.75"/>
<path d="M166.2 316.2L170.0 316.9L171.9 319.4L172.5 320.6L173.1 323.1L171.2 322.5L168.8 320.6L166.5 318.8Z" fill="#a1dab4" stroke="#a1dab4" stroke-width="0.7"/><path d="M166.2 316.2L170.0 316.9L171.9 319.4L172.5 320.6L173.1 323.1L171.2 322.5L168.8 320.6L166.5 318.8Z" fill="none" stroke="#5a6570" stroke-width="0.3" stroke-opacity="0.75"/>
<path d="M172.5 320.6L173.8 322.5L177.5 321.2L180.0 320.0L183.1 321.0L185.6 323.1L185.0 325.0L183.8 324.4L181.9 322.5L179.4 322.2L178.1 324.4L176.9 326.2L175.0 324.4L173.1 323.1Z" fill="#2c7fb8" stroke="#2c7fb8" stroke-width="0.7"/><path d="M172.5 320.6L173.8 322.5L177.5 321.2L180.0 320.0L183.1 321.0L185.6 323.1L185.0 325.0L183.8 324.4L181.9 322.5L179.4 322.2L178.1 324.4L176.9 326.2L175.0 324.4L173.1 323.1Z" fill="none" stroke="#5a6570" stroke-width="0.3" stroke-opacity="0.75"/>
<path d="M171.2 287.5L173.8 285.2L178.1 284.4L182.5 285.2L186.2 287.5L191.2 290.0L195.0 291.9L193.8 293.1L188.8 293.5L186.9 291.9L183.1 289.4L179.4 287.5L175.0 287.5L172.5 288.5Z" fill="#ffffcc" stroke="#ffffcc" stroke-width="0.7"/><path d="M171.2 287.5L173.8 285.2L178.1 284.4L182.5 285.2L186.2 287.5L191.2 290.0L195.0 291.9L193.8 293.1L188.8 293.5L186.9 291.9L183.1 289.4L179.4 287.5L175.0 287.5L172.5 288.5Z" fill="none" stroke="#5a6570" stroke-width="0.3" stroke-opacity="0.75"/>
<path d="M184.8 297.5L187.5 296.9L189.8 297.9L188.8 299.0L185.6 298.8Z" fill="#a1dab4" stroke="#a1dab4" stroke-width="0.7"/><path d="M184.8 297.5L187.5 296.9L189.8 297.9L188.8 299.0L185.6 298.8Z" fill="none" stroke="#5a6570" stroke-width="0.3" stroke-opacity="0.75"/>
<path d="M193.8 296.9L196.2 296.2L197.5 293.1L200.6 293.5L200.0 298.1L198.1 297.8L195.0 298.1Z" fill="#41b6c4" stroke="#41b6c4" stroke-width="0.7"/><path d="M193.8 296.9L196.2 296.2L197.5 293.1L200.6 293.5L200.0 298.1L198.1 297.8L195.0 298.1Z" fill="none" stroke="#5a6570" stroke-width="0.3" stroke-opacity="0.75"/>
<path d="M200.6 293.5L203.8 293.8L207.5 296.5L204.4 297.8L201.2 299.0L200.0 298.1Z" fill="#2c7fb8" stroke="#2c7fb8" stroke-width="0.7"/><path d="M200.6 293.5L203.8 293.8L207.5 296.5L204.4 297.8L201.2 299.0L200.0 298.1Z" fill="none" stroke="#5a6570" stroke-width="0.3" stroke-opacity="0.75"/>
<path d="M196.0 318.1L198.5 315.6L200.0 316.9L201.9 314.4L205.0 316.2L210.0 318.1L216.2 318.5L220.6 317.5L223.1 320.0L225.0 323.1L221.9 328.8L223.1 331.9L220.0 333.8L216.2 335.0L215.2 339.4L211.9 343.1L209.0 340.6L207.8 336.9L208.1 331.9L206.2 329.4L203.8 328.8L200.0 326.9L196.2 324.4L195.0 320.6Z" fill="#ffffcc" stroke="#ffffcc" stroke-width="0.7"/><path d="M196.0 318.1L198.5 315.6L200.0 316.9L201.9 314.4L205.0 316.2L210.0 318.1L216.2 318.5L220.6 317.5L223.1 320.0L225.0 323.1L221.9 328.8L223.1 331.9L220.0 333.8L216.2 335.0L215.2 339.4L211.9 343.1L209.0 340.6L207.8 336.9L208.1 331.9L206.2 329.4L203.8 328.8L200.0 326.9L196.2 324.4L195.0 320.6Z" fill="none" stroke="#5a6570" stroke-width="0.3" stroke-opacity="0.75"/>
<path d="M197.9 318.8L199.1 318.5L199.4 320.6L198.1 321.0Z" fill="#ffffff" stroke="#ffffff" stroke-width="0.7"/><path d="M197.9 318.8L199.1 318.5L199.4 320.6L198.1 321.0Z" fill="none" stroke="#5a6570" stroke-width="0.3" stroke-opacity="0.75"/>
<path d="M225.0 323.1L228.8 326.2L231.2 330.0L229.5 333.8L231.2 338.8L228.8 341.2L225.5 339.0L225.0 335.0L223.1 331.9L221.9 328.8Z" fill="#a1dab4" stroke="#a1dab4" stroke-width="0.7"/><path d="M225.0 323.1L228.8 326.2L231.2 330.0L229.5 333.8L231.2 338.8L228.8 341.2L225.5 339.0L225.0 335.0L223.1 331.9L221.9 328.8Z" fill="none" stroke="#5a6570" stroke-width="0.3" stroke-opacity="0.75"/>
<path d="M197.5 313.8L199.5 313.0L197.0 317.5L195.5 321.2L198.8 325.0L203.8 327.0L206.2 329.5L208.0 332.0L207.8 337.0L209.0 340.5L205.0 340.5L202.5 341.5L202.5 345.0L203.0 350.0L201.2 356.2L198.8 352.0L192.5 350.5L188.8 346.2L182.5 342.5L182.0 338.8L185.0 333.8L185.5 327.5L184.5 323.8L188.0 321.2L191.2 317.0L195.0 315.0Z" fill="#2c7fb8" stroke="#2c7fb8" stroke-width="0.7"/><path d="M197.5 313.8L199.5 313.0L197.0 317.5L195.5 321.2L198.8 325.0L203.8 327.0L206.2 329.5L208.0 332.0L207.8 337.0L209.0 340.5L205.0 340.5L202.5 341.5L202.5 345.0L203.0 350.0L201.2 356.2L198.8 352.0L192.5 350.5L188.8 346.2L182.5 342.5L182.0 338.8L185.0 333.8L185.5 327.5L184.5 323.8L188.0 321.2L191.2 317.0L195.0 315.0Z" fill="none" stroke="#5a6570" stroke-width="0.3" stroke-opacity="0.75"/>
<path d="M231.2 330.0L237.5 329.5L238.8 333.8L237.0 338.8L233.0 339.5L231.2 338.8L229.5 333.8Z" fill="#ffffcc" stroke="#ffffcc" stroke-width="0.7"/><path d="M231.2 330.0L237.5 329.5L238.8 333.8L237.0 338.8L233.0 339.5L231.2 338.8L229.5 333.8Z" fill="none" stroke="#5a6570" stroke-width="0.3" stroke-opacity="0.75"/>
<path d="M182.5 342.5L188.8 346.2L192.5 350.5L187.5 353.8L182.5 358.0L178.8 357.5L177.0 353.8L176.2 348.8L178.8 344.5Z" fill="#2c7fb8" stroke="#2c7fb8" stroke-width="0.7"/><path d="M182.5 342.5L188.8 346.2L192.5 350.5L187.5 353.8L182.5 358.0L178.8 357.5L177.0 353.8L176.2 348.8L178.8 344.5Z" fill="none" stroke="#5a6570" stroke-width="0.3" stroke-opacity="0.75"/>
<path d="M178.8 357.5L182.5 358.0L187.5 353.8L192.5 350.5L198.8 352.0L201.2 356.2L197.5 358.0L194.5 361.2L194.5 360.0L193.8 366.2L196.2 371.2L201.2 372.5L203.8 375.0L204.5 386.2L203.0 392.5L196.2 387.5L188.8 381.2L182.5 370.0L176.2 360.0L175.0 357.5Z" fill="#253494" stroke="#253494" stroke-width="0.7"/><path d="M178.8 357.5L182.5 358.0L187.5 353.8L192.5 350.5L198.8 352.0L201.2 356.2L197.5 358.0L194.5 361.2L194.5 360.0L193.8 366.2L196.2 371.2L201.2 372.5L203.8 375.0L204.5 386.2L203.0 392.5L196.2 387.5L188.8 381.2L182.5 370.0L176.2 360.0L175.0 357.5Z" fill="none" stroke="#5a6570" stroke-width="0.3" stroke-opacity="0.75"/>
<path d="M211.2 343.0L215.0 340.0L216.2 335.0L220.0 334.5L224.5 335.0L225.5 338.8L228.8 341.2L233.0 339.5L237.0 338.8L240.5 338.8L243.8 334.5L247.0 340.0L248.0 345.0L255.0 347.5L261.2 350.5L270.0 352.5L277.5 356.2L282.0 360.0L282.5 366.2L280.0 372.5L274.5 381.2L273.8 392.5L271.2 401.2L267.5 405.0L258.8 407.5L254.5 413.8L253.8 421.2L248.8 428.0L246.2 432.5L244.5 427.5L237.5 423.8L236.2 418.8L240.0 417.5L242.5 413.8L240.0 407.5L237.5 405.0L232.5 402.5L230.0 397.0L232.5 395.0L232.0 391.2L227.5 387.5L225.0 383.8L220.0 380.0L213.8 376.2L212.5 371.2L208.8 371.2L204.5 374.5L201.2 372.5L196.2 371.2L193.8 366.2L194.5 360.0L194.5 361.2L197.5 358.0L201.2 356.2L203.0 350.0L202.5 345.0L202.5 341.5L205.0 340.5L209.0 340.5Z" fill="#253494" stroke="#253494" stroke-width="0.7"/><path d="M211.2 343.0L215.0 340.0L216.2 335.0L220.0 334.5L224.5 335.0L225.5 338.8L228.8 341.2L233.0 339.5L237.0 338.8L240.5 338.8L243.8 334.5L247.0 340.0L248.0 345.0L255.0 347.5L261.2 350.5L270.0 352.5L277.5 356.2L282.0 360.0L282.5 366.2L280.0 372.5L274.5 381.2L273.8 392.5L271.2 401.2L267.5 405.0L258.8 407.5L254.5 413.8L253.8 421.2L248.8 428.0L246.2 432.5L244.5 427.5L237.5 423.8L236.2 418.8L240.0 417.5L242.5 413.8L240.0 407.5L237.5 405.0L232.5 402.5L230.0 397.0L232.5 395.0L232.0 391.2L227.5 387.5L225.0 383.8L220.0 380.0L213.8 376.2L212.5 371.2L208.8 371.2L204.5 374.5L201.2 372.5L196.2 371.2L193.8 366.2L194.5 360.0L194.5 361.2L197.5 358.0L201.2 356.2L203.0 350.0L202.5 345.0L202.5 341.5L205.0 340.5L209.0 340.5Z" fill="none" stroke="#5a6570" stroke-width="0.3" stroke-opacity="0.75"/>
<path d="M204.5 374.5L208.8 371.2L212.5 371.2L213.8 376.2L220.0 380.0L225.0 383.8L227.5 387.5L232.0 391.2L232.5 395.0L226.2 396.2L222.5 398.8L221.2 403.8L217.0 403.0L212.5 403.8L210.0 405.0L207.0 397.5L205.0 392.5Z" fill="#41b6c4" stroke="#41b6c4" stroke-width="0.7"/><path d="M204.5 374.5L208.8 371.2L212.5 371.2L213.8 376.2L220.0 380.0L225.0 383.8L227.5 387.5L232.0 391.2L232.5 395.0L226.2 396.2L222.5 398.8L221.2 403.8L217.0 403.0L212.5 403.8L210.0 405.0L207.0 397.5L205.0 392.5Z" fill="none" stroke="#5a6570" stroke-width="0.3" stroke-opacity="0.75"/>
<path d="M222.5 398.8L226.2 396.2L230.0 397.0L232.5 402.5L237.5 405.0L240.0 407.5L242.5 413.8L240.0 417.5L235.0 417.0L233.8 411.2L226.2 406.2L222.5 404.5Z" fill="#2c7fb8" stroke="#2c7fb8" stroke-width="0.7"/><path d="M222.5 398.8L226.2 396.2L230.0 397.0L232.5 402.5L237.5 405.0L240.0 407.5L242.5 413.8L240.0 417.5L235.0 417.0L233.8 411.2L226.2 406.2L222.5 404.5Z" fill="none" stroke="#5a6570" stroke-width="0.3" stroke-opacity="0.75"/>
<path d="M210.0 405.0L212.5 403.8L217.0 403.0L221.2 403.8L222.5 404.5L226.2 406.2L233.8 411.2L235.0 417.0L236.2 418.8L237.5 423.8L235.8 427.0L235.8 432.5L238.8 436.2L240.0 441.2L237.5 446.2L231.2 447.5L230.5 452.5L227.0 455.0L228.0 460.0L226.2 465.0L228.8 470.0L227.0 476.2L226.2 480.0L230.0 483.8L236.2 487.5L233.8 488.8L227.5 485.0L222.5 481.2L217.5 477.5L215.5 472.5L213.8 465.0L212.0 457.5L210.0 447.5L208.0 435.0L208.0 425.0L209.5 413.8Z" fill="#2c7fb8" stroke="#2c7fb8" stroke-width="0.7"/><path d="M210.0 405.0L212.5 403.8L217.0 403.0L221.2 403.8L222.5 404.5L226.2 406.2L233.8 411.2L235.0 417.0L236.2 418.8L237.5 423.8L235.8 427.0L235.8 432.5L238.8 436.2L240.0 441.2L237.5 446.2L231.2 447.5L230.5 452.5L227.0 455.0L228.0 460.0L226.2 465.0L228.8 470.0L227.0 476.2L226.2 480.0L230.0 483.8L236.2 487.5L233.8 488.8L227.5 485.0L222.5 481.2L217.5 477.5L215.5 472.5L213.8 465.0L212.0 457.5L210.0 447.5L208.0 435.0L208.0 425.0L209.5 413.8Z" fill="none" stroke="#5a6570" stroke-width="0.3" stroke-opacity="0.75"/>
<path d="M334.1 272.4L342.6 258.8L349.2 252.2L358.6 253.2L360.5 260.3L353.9 263.5L348.2 268.2L344.5 270.1L343.5 273.5L337.9 273.5Z" fill="#2c7fb8" stroke="#2c7fb8" stroke-width="0.7"/><path d="M334.1 272.4L342.6 258.8L349.2 252.2L358.6 253.2L360.5 260.3L353.9 263.5L348.2 268.2L344.5 270.1L343.5 273.5L337.9 273.5Z" fill="none" stroke="#5a6570" stroke-width="0.3" stroke-opacity="0.75"/>
<path d="M358.6 253.2L368.9 249.8L380.2 248.5L380.2 256.9L384.0 264.5L384.9 276.7L388.7 283.3L371.8 295.0L366.1 290.8L344.1 273.9L344.5 270.1L348.2 268.2L353.9 263.5L360.5 260.3Z" fill="#ffffcc" stroke="#ffffcc" stroke-width="0.7"/><path d="M358.6 253.2L368.9 249.8L380.2 248.5L380.2 256.9L384.0 264.5L384.9 276.7L388.7 283.3L371.8 295.0L366.1 290.8L344.1 273.9L344.5 270.1L348.2 268.2L353.9 263.5L360.5 260.3Z" fill="none" stroke="#5a6570" stroke-width="0.3" stroke-opacity="0.75"/>
<path d="M380.2 248.5L385.9 247.9L386.8 254.1L389.3 258.8L387.8 261.6L384.9 265.4L384.0 263.5L380.2 256.9Z" fill="#41b6c4" stroke="#41b6c4" stroke-width="0.7"/><path d="M380.2 248.5L385.9 247.9L386.8 254.1L389.3 258.8L387.8 261.6L384.9 265.4L384.0 263.5L380.2 256.9Z" fill="none" stroke="#5a6570" stroke-width="0.3" stroke-opacity="0.75"/>
<path d="M384.9 265.4L387.8 261.6L392.5 259.2L400.9 263.5L407.5 264.5L410.4 260.3L417.9 261.6L418.3 263.5L418.8 292.7L415.1 293.1L397.2 285.2L395.3 286.1L388.7 283.3L384.9 276.7L384.0 264.5Z" fill="#ffffcc" stroke="#ffffcc" stroke-width="0.7"/><path d="M384.9 265.4L387.8 261.6L392.5 259.2L400.9 263.5L407.5 264.5L410.4 260.3L417.9 261.6L418.3 263.5L418.8 292.7L415.1 293.1L397.2 285.2L395.3 286.1L388.7 283.3L384.9 276.7L384.0 264.5Z" fill="none" stroke="#5a6570" stroke-width="0.3" stroke-opacity="0.75"/>
<path d="M418.3 263.0L429.2 263.5L435.8 264.1L440.5 262.6L440.8 269.7L438.2 272.9L435.2 268.6L440.5 277.6L445.7 287.4L418.8 287.8Z" fill="#2c7fb8" stroke="#2c7fb8" stroke-width="0.7"/><path d="M418.3 263.0L429.2 263.5L435.8 264.1L440.5 262.6L440.8 269.7L438.2 272.9L435.2 268.6L440.5 277.6L445.7 287.4L418.8 287.8Z" fill="none" stroke="#5a6570" stroke-width="0.3" stroke-opacity="0.75"/>
<path d="M324.7 288.6L333.2 288.9L335.1 283.3L336.0 277.6L343.5 276.7L344.1 274.3L350.1 278.6L348.6 280.5L350.1 304.9L336.0 305.5L332.2 302.1L327.5 302.1L324.1 304.9L325.6 296.5Z" fill="#41b6c4" stroke="#41b6c4" stroke-width="0.7"/><path d="M324.7 288.6L333.2 288.9L335.1 283.3L336.0 277.6L343.5 276.7L344.1 274.3L350.1 278.6L348.6 280.5L350.1 304.9L336.0 305.5L332.2 302.1L327.5 302.1L324.1 304.9L325.6 296.5Z" fill="none" stroke="#5a6570" stroke-width="0.3" stroke-opacity="0.75"/>
<path d="M350.1 278.6L366.1 290.8L371.8 295.0L372.3 303.1L365.2 306.8L361.0 308.1L355.6 311.9L352.9 316.2L351.8 320.6L346.2 321.3L343.0 318.1L338.1 314.9L336.8 308.7L336.0 305.5L350.1 304.9L348.6 280.5Z" fill="#41b6c4" stroke="#41b6c4" stroke-width="0.7"/><path d="M350.1 278.6L366.1 290.8L371.8 295.0L372.3 303.1L365.2 306.8L361.0 308.1L355.6 311.9L352.9 316.2L351.8 320.6L346.2 321.3L343.0 318.1L338.1 314.9L336.8 308.7L336.0 305.5L350.1 304.9L348.6 280.5Z" fill="none" stroke="#5a6570" stroke-width="0.3" stroke-opacity="0.75"/>
<path d="M371.8 295.0L388.7 283.3L395.3 286.1L397.2 285.2L398.1 300.2L395.3 304.9L394.4 310.0L384.9 311.2L376.5 309.3L372.7 310.6L369.3 313.8L363.7 310.6L362.4 306.3L365.2 304.9L372.3 303.1Z" fill="#41b6c4" stroke="#41b6c4" stroke-width="0.7"/><path d="M371.8 295.0L388.7 283.3L395.3 286.1L397.2 285.2L398.1 300.2L395.3 304.9L394.4 310.0L384.9 311.2L376.5 309.3L372.7 310.6L369.3 313.8L363.7 310.6L362.4 306.3L365.2 304.9L372.3 303.1Z" fill="none" stroke="#5a6570" stroke-width="0.3" stroke-opacity="0.75"/>
<path d="M397.2 285.2L415.1 293.1L418.3 293.6L417.5 304.9L414.1 305.9L413.7 312.5L416.0 316.2L412.2 319.1L405.6 322.8L400.0 324.7L396.2 319.1L395.3 314.4L396.8 310.0L394.4 310.0L395.3 304.9L398.1 300.2Z" fill="#a1dab4" stroke="#a1dab4" stroke-width="0.7"/><path d="M397.2 285.2L415.1 293.1L418.3 293.6L417.5 304.9L414.1 305.9L413.7 312.5L416.0 316.2L412.2 319.1L405.6 322.8L400.0 324.7L396.2 319.1L395.3 314.4L396.8 310.0L394.4 310.0L395.3 304.9L398.1 300.2Z" fill="none" stroke="#5a6570" stroke-width="0.3" stroke-opacity="0.75"/>
<path d="M418.8 287.8L445.7 287.4L449.9 298.7L446.1 304.0L445.2 307.8L442.4 314.4L440.5 320.9L437.6 317.2L432.9 318.1L427.3 320.0L422.6 318.1L417.9 319.1L416.0 316.2L413.7 312.5L414.1 305.9L417.5 304.9L418.3 293.6Z" fill="#a1dab4" stroke="#a1dab4" stroke-width="0.7"/><path d="M418.8 287.8L445.7 287.4L449.9 298.7L446.1 304.0L445.2 307.8L442.4 314.4L440.5 320.9L437.6 317.2L432.9 318.1L427.3 320.0L422.6 318.1L417.9 319.1L416.0 316.2L413.7 312.5L414.1 305.9L417.5 304.9L418.3 293.6Z" fill="none" stroke="#5a6570" stroke-width="0.3" stroke-opacity="0.75"/>
<path d="M446.1 304.0L449.9 298.7L454.6 304.9L460.2 310.6L459.3 312.5L452.7 307.8L445.2 307.8Z" fill="#ffffcc" stroke="#ffffcc" stroke-width="0.7"/><path d="M446.1 304.0L449.9 298.7L454.6 304.9L460.2 310.6L459.3 312.5L452.7 307.8L445.2 307.8Z" fill="none" stroke="#5a6570" stroke-width="0.3" stroke-opacity="0.75"/>
<path d="M445.2 307.8L452.7 307.8L459.3 312.5L459.3 315.3L461.2 316.2L468.7 320.9L471.5 325.6L463.1 333.2L458.4 336.0L451.8 335.1L445.2 332.2L440.5 327.5L440.5 320.9L442.4 314.4Z" fill="#2c7fb8" stroke="#2c7fb8" stroke-width="0.7"/><path d="M445.2 307.8L452.7 307.8L459.3 312.5L459.3 315.3L461.2 316.2L468.7 320.9L471.5 325.6L463.1 333.2L458.4 336.0L451.8 335.1L445.2 332.2L440.5 327.5L440.5 320.9L442.4 314.4Z" fill="none" stroke="#5a6570" stroke-width="0.3" stroke-opacity="0.75"/>
<path d="M459.3 312.5L461.6 313.4L461.2 316.2L459.3 315.3Z" fill="#a1dab4" stroke="#a1dab4" stroke-width="0.7"/><path d="M459.3 312.5L461.6 313.4L461.2 316.2L459.3 315.3Z" fill="none" stroke="#5a6570" stroke-width="0.3" stroke-opacity="0.75"/>
<path d="M461.2 316.2L471.5 314.4L480.0 311.2L480.4 322.8L474.4 332.2L465.9 341.6L459.3 349.2L458.3 347.9L457.9 335.6L458.4 336.0L463.1 333.2L471.5 325.6L468.7 320.9Z" fill="#41b6c4" stroke="#41b6c4" stroke-width="0.7"/><path d="M461.2 316.2L471.5 314.4L480.0 311.2L480.4 322.8L474.4 332.2L465.9 341.6L459.3 349.2L458.3 347.9L457.9 335.6L458.4 336.0L463.1 333.2L471.5 325.6L468.7 320.9Z" fill="none" stroke="#5a6570" stroke-width="0.3" stroke-opacity="0.75"/>
<path d="M417.9 319.1L422.6 318.1L427.3 320.0L432.9 318.1L437.6 317.2L440.5 320.9L440.5 327.5L445.2 332.2L443.3 336.0L439.5 335.1L432.9 335.1L427.3 332.2L422.6 328.5L419.8 323.8Z" fill="#a1dab4" stroke="#a1dab4" stroke-width="0.7"/><path d="M417.9 319.1L422.6 318.1L427.3 320.0L432.9 318.1L437.6 317.2L440.5 320.9L440.5 327.5L445.2 332.2L443.3 336.0L439.5 335.1L432.9 335.1L427.3 332.2L422.6 328.5L419.8 323.8Z" fill="none" stroke="#5a6570" stroke-width="0.3" stroke-opacity="0.75"/>
<path d="M400.0 324.7L405.6 322.8L412.2 319.1L416.0 316.2L417.9 319.1L419.8 323.8L422.6 328.5L427.3 332.2L422.6 332.2L416.0 331.9L410.4 333.2L405.6 334.1L404.7 335.1L400.9 336.9L398.1 334.1L397.2 328.5Z" fill="#a1dab4" stroke="#a1dab4" stroke-width="0.7"/><path d="M400.0 324.7L405.6 322.8L412.2 319.1L416.0 316.2L417.9 319.1L419.8 323.8L422.6 328.5L427.3 332.2L422.6 332.2L416.0 331.9L410.4 333.2L405.6 334.1L404.7 335.1L400.9 336.9L398.1 334.1L397.2 328.5Z" fill="none" stroke="#5a6570" stroke-width="0.3" stroke-opacity="0.75"/>
<path d="M369.3 313.0L372.7 310.6L376.5 309.3L384.9 311.2L394.4 310.0L396.8 310.0L395.3 314.4L392.5 320.0L388.7 325.6L384.0 329.4L380.2 333.7L375.5 333.2L372.7 328.5L369.3 328.5L369.3 322.8L370.8 318.1Z" fill="#2c7fb8" stroke="#2c7fb8" stroke-width="0.7"/><path d="M369.3 313.0L372.7 310.6L376.5 309.3L384.9 311.2L394.4 310.0L396.8 310.0L395.3 314.4L392.5 320.0L388.7 325.6L384.0 329.4L380.2 333.7L375.5 333.2L372.7 328.5L369.3 328.5L369.3 322.8L370.8 318.1Z" fill="none" stroke="#5a6570" stroke-width="0.3" stroke-opacity="0.75"/>
<path d="M395.3 314.4L396.2 319.1L400.0 324.7L397.2 328.5L398.1 334.1L400.9 336.9L399.1 339.4L395.3 339.8L388.7 338.3L384.9 338.8L383.1 333.2L384.0 329.4L388.7 325.6L392.5 320.0Z" fill="#41b6c4" stroke="#41b6c4" stroke-width="0.7"/><path d="M395.3 314.4L396.2 319.1L400.0 324.7L397.2 328.5L398.1 334.1L400.9 336.9L399.1 339.4L395.3 339.8L388.7 338.3L384.9 338.8L383.1 333.2L384.0 329.4L388.7 325.6L392.5 320.0Z" fill="none" stroke="#5a6570" stroke-width="0.3" stroke-opacity="0.75"/>
<path d="M323.0 306.9L325.5 303.1L329.2 301.9L333.0 303.8L335.5 306.2L336.8 311.9L330.5 312.8L324.9 312.8L323.6 310.0Z" fill="#2c7fb8" stroke="#2c7fb8" stroke-width="0.7"/><path d="M323.0 306.9L325.5 303.1L329.2 301.9L333.0 303.8L335.5 306.2L336.8 311.9L330.5 312.8L324.9 312.8L323.6 310.0Z" fill="none" stroke="#5a6570" stroke-width="0.3" stroke-opacity="0.75"/>
<path d="M324.2 309.4L331.1 309.0L331.1 310.6L324.2 310.9Z" fill="#a1dab4" stroke="#a1dab4" stroke-width="0.7"/><path d="M324.2 309.4L331.1 309.0L331.1 310.6L324.2 310.9Z" fill="none" stroke="#5a6570" stroke-width="0.3" stroke-opacity="0.75"/>
<path d="M324.9 312.8L330.5 312.8L331.1 314.4L328.0 316.2L325.8 315.0Z" fill="#a1dab4" stroke="#a1dab4" stroke-width="0.7"/><path d="M324.9 312.8L330.5 312.8L331.1 314.4L328.0 316.2L325.8 315.0Z" fill="none" stroke="#5a6570" stroke-width="0.3" stroke-opacity="0.75"/>
<path d="M328.0 316.2L331.1 314.4L330.5 312.8L336.8 311.9L341.1 313.1L343.6 316.2L344.2 318.8L344.5 322.5L342.4 325.2L340.2 322.5L338.6 319.4L335.5 318.8L332.4 321.2L329.9 318.5Z" fill="#a1dab4" stroke="#a1dab4" stroke-width="0.7"/><path d="M328.0 316.2L331.1 314.4L330.5 312.8L336.8 311.9L341.1 313.1L343.6 316.2L344.2 318.8L344.5 322.5L342.4 325.2L340.2 322.5L338.6 319.4L335.5 318.8L332.4 321.2L329.9 318.5Z" fill="none" stroke="#5a6570" stroke-width="0.3" stroke-opacity="0.75"/>
<path d="M332.4 321.2L335.5 318.8L338.6 319.4L338.6 323.1L336.8 326.9L333.6 324.4Z" fill="#41b6c4" stroke="#41b6c4" stroke-width="0.7"/><path d="M332.4 321.2L335.5 318.8L338.6 319.4L338.6 323.1L336.8 326.9L333.6 324.4Z" fill="none" stroke="#5a6570" stroke-width="0.3" stroke-opacity="0.75"/>
<path d="M336.8 326.9L338.6 323.1L340.2 322.5L342.4 325.2L344.5 328.8L345.2 333.1L341.8 331.2L338.6 328.8Z" fill="#41b6c4" stroke="#41b6c4" stroke-width="0.7"/><path d="M336.8 326.9L338.6 323.1L340.2 322.5L342.4 325.2L344.5 328.8L345.2 333.1L341.8 331.2L338.6 328.8Z" fill="none" stroke="#5a6570" stroke-width="0.3" stroke-opacity="0.75"/>
<path d="M344.5 322.5L344.2 318.8L347.4 318.5L350.5 318.5L356.1 319.4L356.1 326.2L355.5 331.2L350.5 331.9L346.1 333.5L345.2 333.1L344.5 328.8L342.4 325.2Z" fill="#2c7fb8" stroke="#2c7fb8" stroke-width="0.7"/><path d="M344.5 322.5L344.2 318.8L347.4 318.5L350.5 318.5L356.1 319.4L356.1 326.2L355.5 331.2L350.5 331.9L346.1 333.5L345.2 333.1L344.5 328.8L342.4 325.2Z" fill="none" stroke="#5a6570" stroke-width="0.3" stroke-opacity="0.75"/>
<path d="M350.8 315.0L351.8 311.9L355.5 308.8L361.1 305.6L363.6 306.9L366.1 311.9L369.2 313.5L366.1 315.0L365.2 316.9L362.8 316.2L356.1 316.9L356.1 319.4L350.5 318.5Z" fill="#41b6c4" stroke="#41b6c4" stroke-width="0.7"/><path d="M350.8 315.0L351.8 311.9L355.5 308.8L361.1 305.6L363.6 306.9L366.1 311.9L369.2 313.5L366.1 315.0L365.2 316.9L362.8 316.2L356.1 316.9L356.1 319.4L350.5 318.5Z" fill="none" stroke="#5a6570" stroke-width="0.3" stroke-opacity="0.75"/>
<path d="M356.1 316.9L362.8 316.2L363.6 321.2L364.2 329.0L360.5 332.2L356.1 331.5L355.5 331.2L356.1 326.2L356.1 319.4Z" fill="#2c7fb8" stroke="#2c7fb8" stroke-width="0.7"/><path d="M356.1 316.9L362.8 316.2L363.6 321.2L364.2 329.0L360.5 332.2L356.1 331.5L355.5 331.2L356.1 326.2L356.1 319.4Z" fill="none" stroke="#5a6570" stroke-width="0.3" stroke-opacity="0.75"/>
<path d="M362.8 316.2L365.2 316.9L366.4 328.8L364.2 329.0L363.6 321.2Z" fill="#41b6c4" stroke="#41b6c4" stroke-width="0.7"/><path d="M362.8 316.2L365.2 316.9L366.4 328.8L364.2 329.0L363.6 321.2Z" fill="none" stroke="#5a6570" stroke-width="0.3" stroke-opacity="0.75"/>
<path d="M365.2 316.9L366.1 315.0L369.2 313.5L371.1 316.2L369.5 321.2L369.2 328.8L366.4 328.8Z" fill="#41b6c4" stroke="#41b6c4" stroke-width="0.7"/><path d="M365.2 316.9L366.1 315.0L369.2 313.5L371.1 316.2L369.5 321.2L369.2 328.8L366.4 328.8Z" fill="none" stroke="#5a6570" stroke-width="0.3" stroke-opacity="0.75"/>
<path d="M384.5 340.4L389.2 339.4L395.4 339.8L395.8 344.1L395.8 349.8L391.1 351.6L390.1 355.4L387.3 353.5L383.5 347.9Z" fill="#ffffcc" stroke="#ffffcc" stroke-width="0.7"/><path d="M384.5 340.4L389.2 339.4L395.4 339.8L395.8 344.1L395.8 349.8L391.1 351.6L390.1 355.4L387.3 353.5L383.5 347.9Z" fill="none" stroke="#5a6570" stroke-width="0.3" stroke-opacity="0.75"/>
<path d="M395.4 339.8L400.5 338.5L405.2 335.6L405.2 341.3L402.9 347.9L399.5 353.5L396.7 357.3L391.1 358.2L390.1 355.4L391.1 351.6L395.8 349.8L395.8 344.1Z" fill="#a1dab4" stroke="#a1dab4" stroke-width="0.7"/><path d="M395.4 339.8L400.5 338.5L405.2 335.6L405.2 341.3L402.9 347.9L399.5 353.5L396.7 357.3L391.1 358.2L390.1 355.4L391.1 351.6L395.8 349.8L395.8 344.1Z" fill="none" stroke="#5a6570" stroke-width="0.3" stroke-opacity="0.75"/>
<path d="M405.2 335.6L408.9 333.4L416.5 332.3L423.1 332.8L429.6 332.3L433.4 335.6L434.7 339.4L434.0 344.1L433.4 348.8L432.5 353.5L430.4 358.2L431.2 362.9L433.4 366.7L428.7 367.6L428.1 375.2L430.0 378.0L428.7 378.9L423.1 375.2L417.4 374.2L413.6 372.4L412.7 364.8L408.0 363.9L402.4 365.8L400.5 361.1L392.0 361.1L391.1 358.2L396.7 357.3L399.5 353.5L402.9 347.9L405.2 341.3Z" fill="#2c7fb8" stroke="#2c7fb8" stroke-width="0.7"/><path d="M405.2 335.6L408.9 333.4L416.5 332.3L423.1 332.8L429.6 332.3L433.4 335.6L434.7 339.4L434.0 344.1L433.4 348.8L432.5 353.5L430.4 358.2L431.2 362.9L433.4 366.7L428.7 367.6L428.1 375.2L430.0 378.0L428.7 378.9L423.1 375.2L417.4 374.2L413.6 372.4L412.7 364.8L408.0 363.9L402.4 365.8L400.5 361.1L392.0 361.1L391.1 358.2L396.7 357.3L399.5 353.5L402.9 347.9L405.2 341.3Z" fill="none" stroke="#5a6570" stroke-width="0.3" stroke-opacity="0.75"/>
<path d="M433.4 335.6L440.0 334.7L443.2 335.6L442.8 341.3L440.9 347.9L433.4 347.9L432.5 344.1L434.4 339.4Z" fill="#41b6c4" stroke="#41b6c4" stroke-width="0.7"/><path d="M433.4 335.6L440.0 334.7L443.2 335.6L442.8 341.3L440.9 347.9L433.4 347.9L432.5 344.1L434.4 339.4Z" fill="none" stroke="#5a6570" stroke-width="0.3" stroke-opacity="0.75"/>
<path d="M431.3 347.9L434.4 348.3L434.0 352.2L431.0 352.2Z" fill="#2c7fb8" stroke="#2c7fb8" stroke-width="0.7"/><path d="M431.3 347.9L434.4 348.3L434.0 352.2L431.0 352.2Z" fill="none" stroke="#5a6570" stroke-width="0.3" stroke-opacity="0.75"/>
<path d="M430.6 352.2L433.8 352.2L433.0 355.0L431.5 357.5L430.0 356.0Z" fill="#a1dab4" stroke="#a1dab4" stroke-width="0.7"/><path d="M430.6 352.2L433.8 352.2L433.0 355.0L431.5 357.5L430.0 356.0Z" fill="none" stroke="#5a6570" stroke-width="0.3" stroke-opacity="0.75"/>
<path d="M443.2 335.6L443.8 332.3L452.2 335.3L457.9 335.6L458.3 347.9L453.2 355.4L450.4 353.5L440.9 347.9L442.8 341.3Z" fill="#2c7fb8" stroke="#2c7fb8" stroke-width="0.7"/><path d="M443.2 335.6L443.8 332.3L452.2 335.3L457.9 335.6L458.3 347.9L453.2 355.4L450.4 353.5L440.9 347.9L442.8 341.3Z" fill="none" stroke="#5a6570" stroke-width="0.3" stroke-opacity="0.75"/>
<path d="M433.4 347.9L440.9 347.9L450.4 353.5L453.2 355.4L452.2 361.1L454.1 367.6L455.6 373.3L448.5 375.2L442.8 375.6L440.9 370.5L438.1 370.5L435.3 367.6L433.4 366.7L431.2 362.9L430.2 357.5L431.5 357.3L433.0 355.0L433.8 352.2L434.4 348.4L433.8 347.9Z" fill="#2c7fb8" stroke="#2c7fb8" stroke-width="0.7"/><path d="M433.4 347.9L440.9 347.9L450.4 353.5L453.2 355.4L452.2 361.1L454.1 367.6L455.6 373.3L448.5 375.2L442.8 375.6L440.9 370.5L438.1 370.5L435.3 367.6L433.4 366.7L431.2 362.9L430.2 357.5L431.5 357.3L433.0 355.0L433.8 352.2L434.4 348.4L433.8 347.9Z" fill="none" stroke="#5a6570" stroke-width="0.3" stroke-opacity="0.75"/>
<path d="M391.1 358.6L393.1 358.6L393.1 360.7L391.6 360.7Z" fill="#41b6c4" stroke="#41b6c4" stroke-width="0.7"/><path d="M391.1 358.6L393.1 358.6L393.1 360.7L391.6 360.7Z" fill="none" stroke="#5a6570" stroke-width="0.3" stroke-opacity="0.75"/>
<path d="M392.0 361.1L400.5 361.1L402.4 365.8L408.0 363.9L412.7 364.8L413.6 372.4L417.4 374.2L416.5 378.9L412.7 379.3L412.3 386.5L414.6 390.2L406.1 391.2L402.4 390.6L390.1 389.9L391.1 380.8L394.8 372.4L392.9 365.8Z" fill="#41b6c4" stroke="#41b6c4" stroke-width="0.7"/><path d="M392.0 361.1L400.5 361.1L402.4 365.8L408.0 363.9L412.7 364.8L413.6 372.4L417.4 374.2L416.5 378.9L412.7 379.3L412.3 386.5L414.6 390.2L406.1 391.2L402.4 390.6L390.1 389.9L391.1 380.8L394.8 372.4L392.9 365.8Z" fill="none" stroke="#5a6570" stroke-width="0.3" stroke-opacity="0.75"/>
<path d="M412.7 379.3L416.5 378.9L417.4 374.2L423.1 375.2L428.7 378.9L430.0 378.0L428.1 375.2L428.7 367.6L433.4 366.7L435.3 367.6L438.1 370.5L437.6 378.0L434.4 381.8L432.5 384.6L430.6 383.6L427.8 386.5L424.0 391.2L418.4 391.2L414.6 390.2L412.3 386.5Z" fill="#41b6c4" stroke="#41b6c4" stroke-width="0.7"/><path d="M412.7 379.3L416.5 378.9L417.4 374.2L423.1 375.2L428.7 378.9L430.0 378.0L428.1 375.2L428.7 367.6L433.4 366.7L435.3 367.6L438.1 370.5L437.6 378.0L434.4 381.8L432.5 384.6L430.6 383.6L427.8 386.5L424.0 391.2L418.4 391.2L414.6 390.2L412.3 386.5Z" fill="none" stroke="#5a6570" stroke-width="0.3" stroke-opacity="0.75"/>
<path d="M438.1 370.5L440.9 370.5L441.3 376.1L442.8 381.8L443.8 386.5L441.9 388.4L440.6 383.6L438.7 380.8L437.6 378.0Z" fill="#41b6c4" stroke="#41b6c4" stroke-width="0.7"/><path d="M438.1 370.5L440.9 370.5L441.3 376.1L442.8 381.8L443.8 386.5L441.9 388.4L440.6 383.6L438.7 380.8L437.6 378.0Z" fill="none" stroke="#5a6570" stroke-width="0.3" stroke-opacity="0.75"/>
<path d="M440.9 370.5L442.8 375.6L448.5 375.2L455.6 373.3L456.0 384.6L452.2 390.2L445.6 394.9L440.9 398.7L442.8 403.4L441.9 408.1L438.1 410.9L434.4 411.9L434.4 403.0L437.2 399.6L438.1 393.1L437.6 387.4L432.5 384.6L434.4 381.8L437.6 378.0L438.7 380.8L440.6 383.6L441.9 388.4L443.8 386.5L442.8 381.8L441.3 376.1Z" fill="#2c7fb8" stroke="#2c7fb8" stroke-width="0.7"/><path d="M440.9 370.5L442.8 375.6L448.5 375.2L455.6 373.3L456.0 384.6L452.2 390.2L445.6 394.9L440.9 398.7L442.8 403.4L441.9 408.1L438.1 410.9L434.4 411.9L434.4 403.0L437.2 399.6L438.1 393.1L437.6 387.4L432.5 384.6L434.4 381.8L437.6 378.0L438.7 380.8L440.6 383.6L441.9 388.4L443.8 386.5L442.8 381.8L441.3 376.1Z" fill="none" stroke="#5a6570" stroke-width="0.3" stroke-opacity="0.75"/>
<path d="M420.0 390.8L425.0 387.8L430.0 384.5L433.8 384.5L437.8 386.5L438.1 393.1L437.1 399.6L434.4 403.1L428.8 403.1L425.6 400.0L421.9 395.0Z" fill="#a1dab4" stroke="#a1dab4" stroke-width="0.7"/><path d="M420.0 390.8L425.0 387.8L430.0 384.5L433.8 384.5L437.8 386.5L438.1 393.1L437.1 399.6L434.4 403.1L428.8 403.1L425.6 400.0L421.9 395.0Z" fill="none" stroke="#5a6570" stroke-width="0.3" stroke-opacity="0.75"/>
<path d="M389.8 389.5L398.8 390.2L405.6 390.5L410.6 390.9L416.2 390.1L417.5 390.5L410.6 393.1L410.0 397.5L407.8 405.0L408.1 411.2L406.9 420.0L403.1 421.0L400.0 419.4L397.5 412.5L395.0 403.8L391.9 396.2Z" fill="#a1dab4" stroke="#a1dab4" stroke-width="0.7"/><path d="M389.8 389.5L398.8 390.2L405.6 390.5L410.6 390.9L416.2 390.1L417.5 390.5L410.6 393.1L410.0 397.5L407.8 405.0L408.1 411.2L406.9 420.0L403.1 421.0L400.0 419.4L397.5 412.5L395.0 403.8L391.9 396.2Z" fill="none" stroke="#5a6570" stroke-width="0.3" stroke-opacity="0.75"/>
<path d="M410.6 393.1L417.5 390.5L420.0 390.8L421.9 395.0L425.6 400.0L428.8 403.1L425.0 406.2L422.5 408.8L420.0 411.9L415.6 411.9L411.9 413.1L409.8 415.0L408.1 411.2L407.8 405.0L410.0 397.5Z" fill="#ffffcc" stroke="#ffffcc" stroke-width="0.7"/><path d="M410.6 393.1L417.5 390.5L420.0 390.8L421.9 395.0L425.6 400.0L428.8 403.1L425.0 406.2L422.5 408.8L420.0 411.9L415.6 411.9L411.9 413.1L409.8 415.0L408.1 411.2L407.8 405.0L410.0 397.5Z" fill="none" stroke="#5a6570" stroke-width="0.3" stroke-opacity="0.75"/>
<path d="M400.0 419.4L403.1 421.0L406.9 420.0L408.1 411.2L409.8 415.0L411.9 413.1L415.6 411.9L420.0 411.9L422.5 408.8L425.0 406.2L428.8 403.1L434.4 403.1L434.4 411.2L436.9 411.5L436.2 415.0L433.8 420.0L430.0 425.0L425.0 430.0L420.0 433.1L412.5 434.4L406.9 436.2L403.1 435.0L402.2 430.6L403.1 428.8L401.2 424.4Z" fill="#2c7fb8" stroke="#2c7fb8" stroke-width="0.7"/><path d="M400.0 419.4L403.1 421.0L406.9 420.0L408.1 411.2L409.8 415.0L411.9 413.1L415.6 411.9L420.0 411.9L422.5 408.8L425.0 406.2L428.8 403.1L434.4 403.1L434.4 411.2L436.9 411.5L436.2 415.0L433.8 420.0L430.0 425.0L425.0 430.0L420.0 433.1L412.5 434.4L406.9 436.2L403.1 435.0L402.2 430.6L403.1 428.8L401.2 424.4Z" fill="none" stroke="#5a6570" stroke-width="0.3" stroke-opacity="0.75"/>
<path d="M431.5 413.1L433.5 412.2L434.8 414.4L433.8 416.5L431.9 415.6Z" fill="#ffffcc" stroke="#ffffcc" stroke-width="0.7"/><path d="M431.5 413.1L433.5 412.2L434.8 414.4L433.8 416.5L431.9 415.6Z" fill="none" stroke="#5a6570" stroke-width="0.3" stroke-opacity="0.75"/>
<path d="M423.1 423.1L425.6 420.2L428.1 421.2L426.5 424.4L424.4 425.2Z" fill="#ffffcc" stroke="#ffffcc" stroke-width="0.7"/><path d="M423.1 423.1L425.6 420.2L428.1 421.2L426.5 424.4L424.4 425.2Z" fill="none" stroke="#5a6570" stroke-width="0.3" stroke-opacity="0.75"/>
<path d="M475.6 376.9L477.8 380.6L478.1 386.2L475.6 392.5L473.1 399.4L471.0 406.2L469.4 410.0L465.0 411.9L461.9 410.0L460.6 405.0L461.2 400.6L463.5 396.9L463.1 388.8L467.5 386.9L471.9 383.8L473.8 379.4Z" fill="#41b6c4" stroke="#41b6c4" stroke-width="0.7"/><path d="M475.6 376.9L477.8 380.6L478.1 386.2L475.6 392.5L473.1 399.4L471.0 406.2L469.4 410.0L465.0 411.9L461.9 410.0L460.6 405.0L461.2 400.6L463.5 396.9L463.1 388.8L467.5 386.9L471.9 383.8L473.8 379.4Z" fill="none" stroke="#5a6570" stroke-width="0.3" stroke-opacity="0.75"/>
<path d="M457.3 216.0L460.7 211.7L468.2 210.4L474.8 212.8L483.3 211.3L482.4 205.6L495.5 201.9L504.9 204.7L515.3 205.6L522.8 212.2L529.4 213.2L538.3 217.9L533.2 221.6L532.2 226.4L528.5 228.2L530.0 232.0L525.6 232.9L512.5 233.5L508.7 237.6L504.9 238.6L500.2 232.9L493.6 231.6L487.1 231.1L482.4 226.7L479.2 228.2L479.2 235.8L475.8 233.9L470.1 228.2L472.0 224.5L466.4 222.6L460.7 220.7Z" fill="#a1dab4" stroke="#a1dab4" stroke-width="0.7"/><path d="M457.3 216.0L460.7 211.7L468.2 210.4L474.8 212.8L483.3 211.3L482.4 205.6L495.5 201.9L504.9 204.7L515.3 205.6L522.8 212.2L529.4 213.2L538.3 217.9L533.2 221.6L532.2 226.4L528.5 228.2L530.0 232.0L525.6 232.9L512.5 233.5L508.7 237.6L504.9 238.6L500.2 232.9L493.6 231.6L487.1 231.1L482.4 226.7L479.2 228.2L479.2 235.8L475.8 233.9L470.1 228.2L472.0 224.5L466.4 222.6L460.7 220.7Z" fill="none" stroke="#5a6570" stroke-width="0.3" stroke-opacity="0.75"/>
<path d="M479.2 228.2L482.4 226.7L487.1 231.1L493.6 231.6L500.2 232.9L504.9 238.6L508.7 237.6L512.5 236.7L517.2 238.6L512.5 240.5L509.3 242.4L508.7 247.1L504.9 245.2L502.1 240.5L494.6 236.7L488.0 234.8L483.3 233.9L479.9 236.7L479.2 232.0Z" fill="#2c7fb8" stroke="#2c7fb8" stroke-width="0.7"/><path d="M479.2 228.2L482.4 226.7L487.1 231.1L493.6 231.6L500.2 232.9L504.9 238.6L508.7 237.6L512.5 236.7L517.2 238.6L512.5 240.5L509.3 242.4L508.7 247.1L504.9 245.2L502.1 240.5L494.6 236.7L488.0 234.8L483.3 233.9L479.9 236.7L479.2 232.0Z" fill="none" stroke="#5a6570" stroke-width="0.3" stroke-opacity="0.75"/>
<path d="M476.7 237.6L479.9 236.7L483.3 233.9L488.0 234.8L494.6 236.7L502.1 240.5L504.9 245.2L508.7 247.1L503.1 248.9L499.9 252.7L494.6 249.3L487.1 246.7L480.5 247.4L478.6 242.4Z" fill="#a1dab4" stroke="#a1dab4" stroke-width="0.7"/><path d="M476.7 237.6L479.9 236.7L483.3 233.9L488.0 234.8L494.6 236.7L502.1 240.5L504.9 245.2L508.7 247.1L503.1 248.9L499.9 252.7L494.6 249.3L487.1 246.7L480.5 247.4L478.6 242.4Z" fill="none" stroke="#5a6570" stroke-width="0.3" stroke-opacity="0.75"/>
<path d="M512.5 233.5L525.6 232.9L530.0 232.0L531.3 234.8L525.6 236.7L520.9 239.5L514.4 240.5L512.5 240.5L517.2 238.6L512.5 236.7L508.7 237.6Z" fill="#a1dab4" stroke="#a1dab4" stroke-width="0.7"/><path d="M512.5 233.5L525.6 232.9L530.0 232.0L531.3 234.8L525.6 236.7L520.9 239.5L514.4 240.5L512.5 240.5L517.2 238.6L512.5 236.7L508.7 237.6Z" fill="none" stroke="#5a6570" stroke-width="0.3" stroke-opacity="0.75"/>
<path d="M509.3 242.4L512.5 240.5L514.4 240.5L520.9 239.5L522.8 243.3L523.8 246.1L519.1 247.1L514.4 246.7L511.5 248.0L508.7 247.1Z" fill="#41b6c4" stroke="#41b6c4" stroke-width="0.7"/><path d="M509.3 242.4L512.5 240.5L514.4 240.5L520.9 239.5L522.8 243.3L523.8 246.1L519.1 247.1L514.4 246.7L511.5 248.0L508.7 247.1Z" fill="none" stroke="#5a6570" stroke-width="0.3" stroke-opacity="0.75"/>
<path d="M499.9 252.7L503.1 248.9L508.7 247.1L511.5 248.0L514.4 246.7L519.1 247.1L523.8 246.1L524.7 248.6L519.1 249.9L518.1 254.6L516.2 258.4L513.4 263.1L507.8 265.9L501.2 268.1L498.7 268.9L496.5 264.0L494.6 258.4L493.8 254.6L493.5 250.1L494.6 249.3Z" fill="#41b6c4" stroke="#41b6c4" stroke-width="0.7"/><path d="M499.9 252.7L503.1 248.9L508.7 247.1L511.5 248.0L514.4 246.7L519.1 247.1L523.8 246.1L524.7 248.6L519.1 249.9L518.1 254.6L516.2 258.4L513.4 263.1L507.8 265.9L501.2 268.1L498.7 268.9L496.5 264.0L494.6 258.4L493.8 254.6L493.5 250.1L494.6 249.3Z" fill="none" stroke="#5a6570" stroke-width="0.3" stroke-opacity="0.75"/>
<path d="M524.7 248.6L528.5 249.9L530.4 253.6L524.7 255.5L525.6 260.2L528.5 264.9L525.6 269.6L519.1 274.4L520.9 279.1L517.2 282.8L512.5 279.1L504.0 279.1L501.4 278.7L501.4 274.4L498.7 268.9L501.2 268.1L507.8 265.9L513.4 263.1L516.2 258.4L518.1 254.6L519.1 249.9Z" fill="#2c7fb8" stroke="#2c7fb8" stroke-width="0.7"/><path d="M524.7 248.6L528.5 249.9L530.4 253.6L524.7 255.5L525.6 260.2L528.5 264.9L525.6 269.6L519.1 274.4L520.9 279.1L517.2 282.8L512.5 279.1L504.0 279.1L501.4 278.7L501.4 274.4L498.7 268.9L501.2 268.1L507.8 265.9L513.4 263.1L516.2 258.4L518.1 254.6L519.1 249.9Z" fill="none" stroke="#5a6570" stroke-width="0.3" stroke-opacity="0.75"/>
<path d="M524.7 255.5L530.4 253.6L533.2 255.0L536.4 260.2L534.1 263.1L541.6 266.3L542.6 271.2L551.1 273.8L559.5 276.2L560.1 272.5L561.4 272.5L562.4 274.9L568.0 275.3L568.9 272.5L572.7 272.5L575.9 269.3L579.3 271.5L577.0 275.3L573.6 279.1L572.7 289.4L569.9 285.6L565.2 287.5L562.4 288.5L560.5 290.4L556.7 296.0L551.1 301.6L547.3 305.4L546.9 312.9L545.8 317.6L543.2 323.3L540.7 320.5L536.9 315.2L534.1 312.9L532.2 305.4L529.4 296.0L527.5 290.4L522.8 290.7L519.1 286.6L517.2 282.8L520.9 279.1L519.1 274.4L525.6 269.6L528.5 264.9L525.6 260.2Z" fill="#253494" stroke="#253494" stroke-width="0.7"/><path d="M524.7 255.5L530.4 253.6L533.2 255.0L536.4 260.2L534.1 263.1L541.6 266.3L542.6 271.2L551.1 273.8L559.5 276.2L560.1 272.5L561.4 272.5L562.4 274.9L568.0 275.3L568.9 272.5L572.7 272.5L575.9 269.3L579.3 271.5L577.0 275.3L573.6 279.1L572.7 289.4L569.9 285.6L565.2 287.5L562.4 288.5L560.5 290.4L556.7 296.0L551.1 301.6L547.3 305.4L546.9 312.9L545.8 317.6L543.2 323.3L540.7 320.5L536.9 315.2L534.1 312.9L532.2 305.4L529.4 296.0L527.5 290.4L522.8 290.7L519.1 286.6L517.2 282.8L520.9 279.1L519.1 274.4L525.6 269.6L528.5 264.9L525.6 260.2Z" fill="none" stroke="#5a6570" stroke-width="0.3" stroke-opacity="0.75"/>
<path d="M541.6 266.3L545.4 265.9L552.9 270.0L560.1 272.5L559.5 276.2L551.1 273.8L542.6 271.2Z" fill="#41b6c4" stroke="#41b6c4" stroke-width="0.7"/><path d="M541.6 266.3L545.4 265.9L552.9 270.0L560.1 272.5L559.5 276.2L551.1 273.8L542.6 271.2Z" fill="none" stroke="#5a6570" stroke-width="0.3" stroke-opacity="0.75"/>
<path d="M561.4 272.5L565.2 271.2L568.9 272.5L568.0 275.3L562.4 274.9Z" fill="#a1dab4" stroke="#a1dab4" stroke-width="0.7"/><path d="M561.4 272.5L565.2 271.2L568.9 272.5L568.0 275.3L562.4 274.9Z" fill="none" stroke="#5a6570" stroke-width="0.3" stroke-opacity="0.75"/>
<path d="M538.3 217.9L542.6 218.8L547.3 221.6L551.1 227.3L560.5 230.1L568.0 233.9L575.5 234.8L584.5 236.1L592.9 232.9L594.8 228.2L600.5 226.4L607.1 223.5L600.5 220.7L596.7 215.1L600.5 208.5L605.2 206.6L611.8 209.4L618.4 215.1L625.9 217.9L631.5 219.8L636.2 218.8L637.6 226.4L634.4 228.2L635.3 233.5L632.5 235.8L628.7 237.6L627.8 242.4L624.9 244.2L622.1 241.4L619.9 239.5L615.5 244.2L620.2 247.1L626.8 246.1L624.0 249.9L623.1 253.6L627.8 258.4L631.2 263.1L633.4 269.6L631.5 276.2L627.8 280.9L622.1 285.6L615.5 288.5L610.8 290.4L607.1 289.4L604.2 292.2L602.4 288.5L598.6 285.6L594.8 286.6L591.1 288.5L588.2 285.6L584.5 280.9L582.6 275.3L580.7 272.5L578.8 271.5L575.9 269.3L572.7 272.5L568.9 272.5L565.2 271.2L561.4 272.5L560.1 272.5L552.9 270.0L545.4 265.9L541.6 266.3L534.1 263.1L536.4 260.2L533.2 255.0L530.4 253.6L528.5 249.9L524.7 248.6L523.8 246.1L522.8 243.3L520.9 239.5L525.6 236.7L531.3 234.8L530.0 232.0L528.5 228.2L532.2 226.4L533.2 221.6Z" fill="#2c7fb8" stroke="#2c7fb8" stroke-width="0.7"/><path d="M538.3 217.9L542.6 218.8L547.3 221.6L551.1 227.3L560.5 230.1L568.0 233.9L575.5 234.8L584.5 236.1L592.9 232.9L594.8 228.2L600.5 226.4L607.1 223.5L600.5 220.7L596.7 215.1L600.5 208.5L605.2 206.6L611.8 209.4L618.4 215.1L625.9 217.9L631.5 219.8L636.2 218.8L637.6 226.4L634.4 228.2L635.3 233.5L632.5 235.8L628.7 237.6L627.8 242.4L624.9 244.2L622.1 241.4L619.9 239.5L615.5 244.2L620.2 247.1L626.8 246.1L624.0 249.9L623.1 253.6L627.8 258.4L631.2 263.1L633.4 269.6L631.5 276.2L627.8 280.9L622.1 285.6L615.5 288.5L610.8 290.4L607.1 289.4L604.2 292.2L602.4 288.5L598.6 285.6L594.8 286.6L591.1 288.5L588.2 285.6L584.5 280.9L582.6 275.3L580.7 272.5L578.8 271.5L575.9 269.3L572.7 272.5L568.9 272.5L565.2 271.2L561.4 272.5L560.1 272.5L552.9 270.0L545.4 265.9L541.6 266.3L534.1 263.1L536.4 260.2L533.2 255.0L530.4 253.6L528.5 249.9L524.7 248.6L523.8 246.1L522.8 243.3L520.9 239.5L525.6 236.7L531.3 234.8L530.0 232.0L528.5 228.2L532.2 226.4L533.2 221.6Z" fill="none" stroke="#5a6570" stroke-width="0.3" stroke-opacity="0.75"/>
<path d="M538.3 217.9L545.4 214.1L557.6 215.1L559.5 210.9L569.9 214.1L569.4 214.1L578.8 216.0L588.2 216.0L596.7 215.1L600.5 220.7L607.1 223.5L600.5 226.4L594.8 228.2L592.9 232.9L584.5 236.1L575.5 234.8L568.0 233.9L560.5 230.1L551.1 227.3L547.3 221.6L542.6 218.8Z" fill="#41b6c4" stroke="#41b6c4" stroke-width="0.7"/><path d="M538.3 217.9L545.4 214.1L557.6 215.1L559.5 210.9L569.9 214.1L569.4 214.1L578.8 216.0L588.2 216.0L596.7 215.1L600.5 220.7L607.1 223.5L600.5 226.4L594.8 228.2L592.9 232.9L584.5 236.1L575.5 234.8L568.0 233.9L560.5 230.1L551.1 227.3L547.3 221.6L542.6 218.8Z" fill="none" stroke="#5a6570" stroke-width="0.3" stroke-opacity="0.75"/>
<path d="M609.3 293.2L612.7 292.2L614.2 295.1L611.8 297.5L609.3 296.0Z" fill="#2c7fb8" stroke="#2c7fb8" stroke-width="0.7"/><path d="M609.3 293.2L612.7 292.2L614.2 295.1L611.8 297.5L609.3 296.0Z" fill="none" stroke="#5a6570" stroke-width="0.3" stroke-opacity="0.75"/>
<path d="M627.8 242.4L628.7 237.6L632.5 235.8L635.3 233.5L637.2 234.8L635.3 240.5L637.2 244.2L633.4 246.1L630.6 245.2Z" fill="#ffffcc" stroke="#ffffcc" stroke-width="0.7"/><path d="M627.8 242.4L628.7 237.6L632.5 235.8L635.3 233.5L637.2 234.8L635.3 240.5L637.2 244.2L633.4 246.1L630.6 245.2Z" fill="none" stroke="#5a6570" stroke-width="0.3" stroke-opacity="0.75"/>
<path d="M457.5 242.5L461.2 245.6L465.0 243.1L468.1 247.5L472.5 249.4L478.8 249.4L485.0 246.2L491.2 247.5L495.0 251.9L495.6 257.5L497.5 263.1L499.4 268.8L503.1 273.8L501.9 278.8L495.0 277.5L490.6 275.0L487.5 275.6L482.5 274.4L477.5 270.6L473.8 266.9L469.4 265.4L467.5 261.9L463.1 256.9L461.9 252.5L458.8 246.9Z" fill="#ffffcc" stroke="#ffffcc" stroke-width="0.7"/><path d="M457.5 242.5L461.2 245.6L465.0 243.1L468.1 247.5L472.5 249.4L478.8 249.4L485.0 246.2L491.2 247.5L495.0 251.9L495.6 257.5L497.5 263.1L499.4 268.8L503.1 273.8L501.9 278.8L495.0 277.5L490.6 275.0L487.5 275.6L482.5 274.4L477.5 270.6L473.8 266.9L469.4 265.4L467.5 261.9L463.1 256.9L461.9 252.5L458.8 246.9Z" fill="none" stroke="#5a6570" stroke-width="0.3" stroke-opacity="0.75"/>
<path d="M448.8 258.8L453.1 254.4L453.1 249.4L457.5 247.8L461.9 252.5L463.1 256.9L467.5 261.9L469.4 265.6L466.9 268.1L463.1 269.0L457.5 265.0L451.9 260.6Z" fill="#41b6c4" stroke="#41b6c4" stroke-width="0.7"/><path d="M448.8 258.8L453.1 254.4L453.1 249.4L457.5 247.8L461.9 252.5L463.1 256.9L467.5 261.9L469.4 265.6L466.9 268.1L463.1 269.0L457.5 265.0L451.9 260.6Z" fill="none" stroke="#5a6570" stroke-width="0.3" stroke-opacity="0.75"/>
<path d="M441.2 251.9L446.9 249.4L452.8 248.1L453.1 254.4L448.8 258.8L443.1 260.6L441.2 256.9Z" fill="#a1dab4" stroke="#a1dab4" stroke-width="0.7"/><path d="M441.2 251.9L446.9 249.4L452.8 248.1L453.1 254.4L448.8 258.8L443.1 260.6L441.2 256.9Z" fill="none" stroke="#5a6570" stroke-width="0.3" stroke-opacity="0.75"/>
<path d="M440.0 255.0L441.2 254.8L441.2 258.8L440.0 259.0Z" fill="#41b6c4" stroke="#41b6c4" stroke-width="0.7"/><path d="M440.0 255.0L441.2 254.8L441.2 258.8L440.0 259.0Z" fill="none" stroke="#5a6570" stroke-width="0.3" stroke-opacity="0.75"/>
<path d="M440.6 261.9L443.1 260.6L448.8 258.8L449.0 261.2L445.6 263.8L444.4 268.1L441.0 268.5Z" fill="#253494" stroke="#253494" stroke-width="0.7"/><path d="M440.6 261.9L443.1 260.6L448.8 258.8L449.0 261.2L445.6 263.8L444.4 268.1L441.0 268.5Z" fill="none" stroke="#5a6570" stroke-width="0.3" stroke-opacity="0.75"/>
<path d="M460.6 301.2L465.0 300.0L471.2 300.6L475.0 297.5L481.2 296.0L483.8 301.2L481.2 303.8L475.0 306.9L468.8 310.0L462.5 312.5L461.9 308.1L460.6 303.8Z" fill="#41b6c4" stroke="#41b6c4" stroke-width="0.7"/><path d="M460.6 301.2L465.0 300.0L471.2 300.6L475.0 297.5L481.2 296.0L483.8 301.2L481.2 303.8L475.0 306.9L468.8 310.0L462.5 312.5L461.9 308.1L460.6 303.8Z" fill="none" stroke="#5a6570" stroke-width="0.3" stroke-opacity="0.75"/>
<path d="M578.8 271.5L580.7 272.5L582.6 275.3L584.5 280.9L588.2 285.6L591.1 288.5L590.1 291.3L588.2 292.2L584.5 293.2L584.5 299.4L587.3 306.0L589.2 311.6L588.2 318.2L587.3 312.6L585.4 306.9L582.2 303.2L578.8 304.1L577.9 296.0L575.1 292.2L572.2 288.5L573.2 279.1L576.0 275.3L575.4 272.5Z" fill="#a1dab4" stroke="#a1dab4" stroke-width="0.7"/><path d="M578.8 271.5L580.7 272.5L582.6 275.3L584.5 280.9L588.2 285.6L591.1 288.5L590.1 291.3L588.2 292.2L584.5 293.2L584.5 299.4L587.3 306.0L589.2 311.6L588.2 318.2L587.3 312.6L585.4 306.9L582.2 303.2L578.8 304.1L577.9 296.0L575.1 292.2L572.2 288.5L573.2 279.1L576.0 275.3L575.4 272.5Z" fill="none" stroke="#5a6570" stroke-width="0.3" stroke-opacity="0.75"/>
<path d="M584.5 292.8L588.2 292.3L591.1 291.5L592.4 294.7L593.5 299.4L596.1 298.5L600.5 303.2L602.4 307.9L598.6 308.8L597.3 312.6L592.9 311.6L590.5 308.8L591.1 313.5L590.1 318.2L592.0 322.9L594.8 327.6L598.6 329.5L597.6 330.5L593.9 328.6L589.2 323.9L588.2 318.2L589.2 311.6L587.3 306.0L584.5 299.4Z" fill="#a1dab4" stroke="#a1dab4" stroke-width="0.7"/><path d="M584.5 292.8L588.2 292.3L591.1 291.5L592.4 294.7L593.5 299.4L596.1 298.5L600.5 303.2L602.4 307.9L598.6 308.8L597.3 312.6L592.9 311.6L590.5 308.8L591.1 313.5L590.1 318.2L592.0 322.9L594.8 327.6L598.6 329.5L597.6 330.5L593.9 328.6L589.2 323.9L588.2 318.2L589.2 311.6L587.3 306.0L584.5 299.4Z" fill="none" stroke="#5a6570" stroke-width="0.3" stroke-opacity="0.75"/>
<path d="M593.9 328.6L597.6 329.9L600.5 333.3L602.4 338.0L603.7 341.8L601.0 341.2L597.6 338.0L594.8 333.7Z" fill="#ffffcc" stroke="#ffffcc" stroke-width="0.7"/><path d="M593.9 328.6L597.6 329.9L600.5 333.3L602.4 338.0L603.7 341.8L601.0 341.2L597.6 338.0L594.8 333.7Z" fill="none" stroke="#5a6570" stroke-width="0.3" stroke-opacity="0.75"/>
<path d="M598.6 308.8L602.4 307.9L607.1 309.8L609.3 308.8L609.3 313.5L606.1 316.4L602.4 317.9L598.6 315.4L597.3 312.6Z" fill="#41b6c4" stroke="#41b6c4" stroke-width="0.7"/><path d="M598.6 308.8L602.4 307.9L607.1 309.8L609.3 308.8L609.3 313.5L606.1 316.4L602.4 317.9L598.6 315.4L597.3 312.6Z" fill="none" stroke="#5a6570" stroke-width="0.3" stroke-opacity="0.75"/>
<path d="M594.8 286.6L598.6 285.6L602.4 288.5L604.2 292.2L602.4 294.1L603.7 294.7L608.0 300.4L611.8 306.0L613.6 311.6L612.7 315.4L608.0 319.2L605.2 322.4L603.7 318.2L606.1 316.4L609.3 313.5L609.3 308.8L608.6 306.0L605.2 301.3L601.4 297.5L599.5 293.8L596.7 292.2Z" fill="#2c7fb8" stroke="#2c7fb8" stroke-width="0.7"/><path d="M594.8 286.6L598.6 285.6L602.4 288.5L604.2 292.2L602.4 294.1L603.7 294.7L608.0 300.4L611.8 306.0L613.6 311.6L612.7 315.4L608.0 319.2L605.2 322.4L603.7 318.2L606.1 316.4L609.3 313.5L609.3 308.8L608.6 306.0L605.2 301.3L601.4 297.5L599.5 293.8L596.7 292.2Z" fill="none" stroke="#5a6570" stroke-width="0.3" stroke-opacity="0.75"/>
<path d="M591.1 288.5L594.8 286.6L596.7 292.2L599.5 293.8L601.4 297.5L605.2 301.3L608.6 306.0L609.3 308.8L607.1 309.8L602.4 307.9L600.5 303.2L596.1 298.5L593.5 299.4L592.4 294.7L591.1 291.5L590.1 291.3Z" fill="#41b6c4" stroke="#41b6c4" stroke-width="0.7"/><path d="M591.1 288.5L594.8 286.6L596.7 292.2L599.5 293.8L601.4 297.5L605.2 301.3L608.6 306.0L609.3 308.8L607.1 309.8L602.4 307.9L600.5 303.2L596.1 298.5L593.5 299.4L592.4 294.7L591.1 291.5L590.1 291.3Z" fill="none" stroke="#5a6570" stroke-width="0.3" stroke-opacity="0.75"/>
<path d="M582.2 331.8L586.4 330.5L591.1 335.2L596.7 341.8L602.4 346.5L606.1 351.2L607.4 356.8L605.2 360.6L600.5 355.9L595.8 350.2L591.1 343.6L586.4 337.1Z" fill="#253494" stroke="#253494" stroke-width="0.7"/><path d="M582.2 331.8L586.4 330.5L591.1 335.2L596.7 341.8L602.4 346.5L606.1 351.2L607.4 356.8L605.2 360.6L600.5 355.9L595.8 350.2L591.1 343.6L586.4 337.1Z" fill="none" stroke="#5a6570" stroke-width="0.3" stroke-opacity="0.75"/>
<path d="M606.1 361.2L610.8 360.6L616.5 362.5L622.1 363.4L628.7 366.2L626.8 368.1L620.2 366.8L613.6 365.7L608.0 364.4Z" fill="#253494" stroke="#253494" stroke-width="0.7"/><path d="M606.1 361.2L610.8 360.6L616.5 362.5L622.1 363.4L628.7 366.2L626.8 368.1L620.2 366.8L613.6 365.7L608.0 364.4Z" fill="none" stroke="#5a6570" stroke-width="0.3" stroke-opacity="0.75"/>
<path d="M631.2 367.6L635.3 366.2L636.8 367.6L632.5 369.1Z" fill="#253494" stroke="#253494" stroke-width="0.7"/><path d="M631.2 367.6L635.3 366.2L636.8 367.6L632.5 369.1Z" fill="none" stroke="#5a6570" stroke-width="0.3" stroke-opacity="0.75"/>
<path d="M638.1 367.2L645.6 366.2L645.6 368.1L639.1 368.7Z" fill="#253494" stroke="#253494" stroke-width="0.7"/><path d="M638.1 367.2L645.6 366.2L645.6 368.1L639.1 368.7Z" fill="none" stroke="#5a6570" stroke-width="0.3" stroke-opacity="0.75"/>
<path d="M636.8 370.0L640.0 370.6L639.1 372.3Z" fill="#253494" stroke="#253494" stroke-width="0.7"/><path d="M636.8 370.0L640.0 370.6L639.1 372.3Z" fill="none" stroke="#5a6570" stroke-width="0.3" stroke-opacity="0.75"/>
<path d="M646.6 370.9L651.3 368.1L652.2 369.1L648.1 372.4Z" fill="#253494" stroke="#253494" stroke-width="0.7"/><path d="M646.6 370.9L651.3 368.1L652.2 369.1L648.1 372.4Z" fill="none" stroke="#5a6570" stroke-width="0.3" stroke-opacity="0.75"/>
<path d="M650.7 367.6L655.6 366.2L655.6 367.6L651.9 369.1Z" fill="#a1dab4" stroke="#a1dab4" stroke-width="0.7"/><path d="M650.7 367.6L655.6 366.2L655.6 367.6L651.9 369.1Z" fill="none" stroke="#5a6570" stroke-width="0.3" stroke-opacity="0.75"/>
<path d="M616.5 341.2L620.2 338.9L624.9 335.2L628.7 330.5L631.5 327.3L635.3 329.5L637.6 331.4L635.3 334.8L632.5 334.2L628.7 335.2L624.9 339.3L621.2 342.3L617.4 343.1Z" fill="#ffffcc" stroke="#ffffcc" stroke-width="0.7"/><path d="M616.5 341.2L620.2 338.9L624.9 335.2L628.7 330.5L631.5 327.3L635.3 329.5L637.6 331.4L635.3 334.8L632.5 334.2L628.7 335.2L624.9 339.3L621.2 342.3L617.4 343.1Z" fill="none" stroke="#5a6570" stroke-width="0.3" stroke-opacity="0.75"/>
<path d="M614.6 341.8L617.4 343.1L621.2 342.3L624.9 339.3L628.7 335.2L632.5 334.2L634.9 335.2L634.4 339.9L636.2 343.6L634.4 346.5L632.5 352.1L630.6 355.5L625.9 354.9L621.2 353.1L617.4 353.1L615.0 348.4Z" fill="#253494" stroke="#253494" stroke-width="0.7"/><path d="M614.6 341.8L617.4 343.1L621.2 342.3L624.9 339.3L628.7 335.2L632.5 334.2L634.9 335.2L634.4 339.9L636.2 343.6L634.4 346.5L632.5 352.1L630.6 355.5L625.9 354.9L621.2 353.1L617.4 353.1L615.0 348.4Z" fill="none" stroke="#5a6570" stroke-width="0.3" stroke-opacity="0.75"/>
<path d="M640.9 343.6L648.5 341.8L652.2 340.8L651.3 343.6L645.6 345.5L642.8 347.4L644.7 350.2L648.5 352.1L645.6 353.6L643.8 352.1L644.7 355.9L646.6 359.3L643.8 359.3L641.9 354.9L640.9 358.7L638.1 359.3L637.2 354.0L637.6 349.3L639.1 345.5Z" fill="#253494" stroke="#253494" stroke-width="0.7"/><path d="M640.9 343.6L648.5 341.8L652.2 340.8L651.3 343.6L645.6 345.5L642.8 347.4L644.7 350.2L648.5 352.1L645.6 353.6L643.8 352.1L644.7 355.9L646.6 359.3L643.8 359.3L641.9 354.9L640.9 358.7L638.1 359.3L637.2 354.0L637.6 349.3L639.1 345.5Z" fill="none" stroke="#5a6570" stroke-width="0.3" stroke-opacity="0.75"/>
<path d="M656.9 339.9L659.4 340.8L659.8 345.5L657.9 347.4L656.9 343.6Z" fill="#253494" stroke="#253494" stroke-width="0.7"/><path d="M656.9 339.9L659.4 340.8L659.8 345.5L657.9 347.4L656.9 343.6Z" fill="none" stroke="#5a6570" stroke-width="0.3" stroke-opacity="0.75"/>
<path d="M654.1 353.6L657.9 353.1L663.5 353.1L664.5 354.9L658.8 354.9L654.1 354.9Z" fill="#253494" stroke="#253494" stroke-width="0.7"/><path d="M654.1 353.6L657.9 353.1L663.5 353.1L664.5 354.9L658.8 354.9L654.1 354.9Z" fill="none" stroke="#5a6570" stroke-width="0.3" stroke-opacity="0.75"/>
<path d="M664.5 347.4L670.1 346.1L672.9 348.4L672.0 352.1L676.7 352.1L680.5 349.9L688.0 351.7L687.1 368.1L684.2 366.2L682.4 364.4L679.5 367.2L680.5 362.5L676.7 357.8L672.9 355.9L670.1 353.1L667.3 350.2Z" fill="#253494" stroke="#253494" stroke-width="0.7"/><path d="M664.5 347.4L670.1 346.1L672.9 348.4L672.0 352.1L676.7 352.1L680.5 349.9L688.0 351.7L687.1 368.1L684.2 366.2L682.4 364.4L679.5 367.2L680.5 362.5L676.7 357.8L672.9 355.9L670.1 353.1L667.3 350.2Z" fill="none" stroke="#5a6570" stroke-width="0.3" stroke-opacity="0.75"/>
<path d="M672.0 360.0L673.5 360.0L673.5 362.5L672.0 362.5Z" fill="#253494" stroke="#253494" stroke-width="0.7"/><path d="M672.0 360.0L673.5 360.0L673.5 362.5L672.0 362.5Z" fill="none" stroke="#5a6570" stroke-width="0.3" stroke-opacity="0.75"/>
<path d="M688.0 351.7L695.5 354.9L700.2 358.7L702.1 363.4L704.9 367.2L709.1 372.4L704.9 371.9L700.2 368.7L695.5 368.1L691.8 369.1L687.1 368.1Z" fill="#41b6c4" stroke="#41b6c4" stroke-width="0.7"/><path d="M688.0 351.7L695.5 354.9L700.2 358.7L702.1 363.4L704.9 367.2L709.1 372.4L704.9 371.9L700.2 368.7L695.5 368.1L691.8 369.1L687.1 368.1Z" fill="none" stroke="#5a6570" stroke-width="0.3" stroke-opacity="0.75"/>
<path d="M704.6 359.6L708.7 360.0L713.4 357.8L715.3 354.9L712.5 352.1L716.2 354.9L715.9 358.1L712.5 360.6L707.8 361.5L704.6 361.2Z" fill="#41b6c4" stroke="#41b6c4" stroke-width="0.7"/><path d="M704.6 359.6L708.7 360.0L713.4 357.8L715.3 354.9L712.5 352.1L716.2 354.9L715.9 358.1L712.5 360.6L707.8 361.5L704.6 361.2Z" fill="none" stroke="#5a6570" stroke-width="0.3" stroke-opacity="0.75"/>
<path d="M637.2 297.2L640.9 297.2L641.9 301.3L641.3 306.0L643.8 307.9L647.0 308.8L648.5 311.6L645.6 310.7L642.8 310.7L640.0 308.8L638.1 306.9L636.2 302.2Z" fill="#253494" stroke="#253494" stroke-width="0.7"/><path d="M637.2 297.2L640.9 297.2L641.9 301.3L641.3 306.0L643.8 307.9L647.0 308.8L648.5 311.6L645.6 310.7L642.8 310.7L640.0 308.8L638.1 306.9L636.2 302.2Z" fill="none" stroke="#5a6570" stroke-width="0.3" stroke-opacity="0.75"/>
<path d="M642.8 313.5L645.6 312.2L650.0 313.0L651.3 316.4L648.5 318.2L647.0 321.1L644.7 320.1L645.6 316.4L642.8 315.4Z" fill="#253494" stroke="#253494" stroke-width="0.7"/><path d="M642.8 313.5L645.6 312.2L650.0 313.0L651.3 316.4L648.5 318.2L647.0 321.1L644.7 320.1L645.6 316.4L642.8 315.4Z" fill="none" stroke="#5a6570" stroke-width="0.3" stroke-opacity="0.75"/>
<path d="M643.8 324.8L648.5 322.9L651.3 321.1L653.7 323.9L653.2 328.6L651.3 330.5L648.5 328.6L645.6 326.7L643.8 326.7Z" fill="#253494" stroke="#253494" stroke-width="0.7"/><path d="M643.8 324.8L648.5 322.9L651.3 321.1L653.7 323.9L653.2 328.6L651.3 330.5L648.5 328.6L645.6 326.7L643.8 326.7Z" fill="none" stroke="#5a6570" stroke-width="0.3" stroke-opacity="0.75"/>
<path d="M632.5 322.0L637.2 316.0L638.1 316.7L633.8 322.9Z" fill="#253494" stroke="#253494" stroke-width="0.7"/><path d="M632.5 322.0L637.2 316.0L638.1 316.7L633.8 322.9Z" fill="none" stroke="#5a6570" stroke-width="0.3" stroke-opacity="0.75"/>
<path d="M409.4 205.2L412.2 201.8L416.9 199.9L421.6 201.8L425.4 205.2L426.3 208.6L423.5 210.8L417.8 211.8L412.2 210.8L409.4 209.3Z" fill="#a1dab4" stroke="#a1dab4" stroke-width="0.7"/><path d="M409.4 205.2L412.2 201.8L416.9 199.9L421.6 201.8L425.4 205.2L426.3 208.6L423.5 210.8L417.8 211.8L412.2 210.8L409.4 209.3Z" fill="none" stroke="#5a6570" stroke-width="0.3" stroke-opacity="0.75"/>
<path d="M408.4 214.6L410.3 211.2L412.2 210.8L417.8 211.8L423.5 210.8L426.3 209.3L431.0 210.4L436.6 214.6L442.7 215.5L443.8 219.3L440.4 223.1L436.6 224.9L432.9 224.4L435.7 226.3L433.8 229.3L430.1 228.1L430.1 224.9L427.2 224.9L425.0 225.9L423.5 223.1L420.6 220.2L417.8 219.9L415.9 220.2L411.2 219.9L408.4 218.4Z" fill="#253494" stroke="#253494" stroke-width="0.7"/><path d="M408.4 214.6L410.3 211.2L412.2 210.8L417.8 211.8L423.5 210.8L426.3 209.3L431.0 210.4L436.6 214.6L442.7 215.5L443.8 219.3L440.4 223.1L436.6 224.9L432.9 224.4L435.7 226.3L433.8 229.3L430.1 228.1L430.1 224.9L427.2 224.9L425.0 225.9L423.5 223.1L420.6 220.2L417.8 219.9L415.9 220.2L411.2 219.9L408.4 218.4Z" fill="none" stroke="#5a6570" stroke-width="0.3" stroke-opacity="0.75"/>
<path d="M417.8 219.9L420.6 220.2L423.5 223.1L424.4 226.3L422.0 225.5L419.7 222.5Z" fill="#2c7fb8" stroke="#2c7fb8" stroke-width="0.7"/><path d="M417.8 219.9L420.6 220.2L423.5 223.1L424.4 226.3L422.0 225.5L419.7 222.5Z" fill="none" stroke="#5a6570" stroke-width="0.3" stroke-opacity="0.75"/>
<path d="M402.4 225.9L405.6 224.9L408.4 227.8L410.3 231.5L409.4 234.4L406.5 233.4L404.3 230.6L402.8 228.7Z" fill="#2c7fb8" stroke="#2c7fb8" stroke-width="0.7"/><path d="M402.4 225.9L405.6 224.9L408.4 227.8L410.3 231.5L409.4 234.4L406.5 233.4L404.3 230.6L402.8 228.7Z" fill="none" stroke="#5a6570" stroke-width="0.3" stroke-opacity="0.75"/>
<path d="M395.6 228.1L399.9 227.4L402.8 229.3L403.1 232.5L400.9 233.8L398.1 231.5Z" fill="#a1dab4" stroke="#a1dab4" stroke-width="0.7"/><path d="M395.6 228.1L399.9 227.4L402.8 229.3L403.1 232.5L400.9 233.8L398.1 231.5Z" fill="none" stroke="#5a6570" stroke-width="0.3" stroke-opacity="0.75"/>
<path d="M401.3 233.0L403.7 232.5L404.3 234.9L402.4 235.3Z" fill="#ffffcc" stroke="#ffffcc" stroke-width="0.7"/><path d="M401.3 233.0L403.7 232.5L404.3 234.9L402.4 235.3Z" fill="none" stroke="#5a6570" stroke-width="0.3" stroke-opacity="0.75"/>
<path d="M406.2 233.4L408.4 233.8L408.0 235.7L406.2 235.3Z" fill="#a1dab4" stroke="#a1dab4" stroke-width="0.7"/><path d="M406.2 233.4L408.4 233.8L408.0 235.7L406.2 235.3Z" fill="none" stroke="#5a6570" stroke-width="0.3" stroke-opacity="0.75"/>
<path d="M404.3 235.3L406.2 235.3L407.5 238.1L405.6 240.6L404.3 238.1Z" fill="#41b6c4" stroke="#41b6c4" stroke-width="0.7"/><path d="M404.3 235.3L406.2 235.3L407.5 238.1L405.6 240.6L404.3 238.1Z" fill="none" stroke="#5a6570" stroke-width="0.3" stroke-opacity="0.75"/>
<path d="M407.5 235.7L410.7 234.9L411.8 237.2L408.4 238.7Z" fill="#41b6c4" stroke="#41b6c4" stroke-width="0.7"/><path d="M407.5 235.7L410.7 234.9L411.8 237.2L408.4 238.7Z" fill="none" stroke="#5a6570" stroke-width="0.3" stroke-opacity="0.75"/>
<path d="M417.8 235.3L420.6 234.9L423.5 236.8L420.6 238.7L418.2 237.6Z" fill="#2c7fb8" stroke="#2c7fb8" stroke-width="0.7"/><path d="M417.8 235.3L420.6 234.9L423.5 236.8L420.6 238.7L418.2 237.6Z" fill="none" stroke="#5a6570" stroke-width="0.3" stroke-opacity="0.75"/>
<path d="M419.7 240.9L423.5 238.1L431.0 235.7L440.4 236.2L447.9 237.6L455.5 238.1L457.0 238.1L459.2 242.4L459.2 247.0L454.0 248.5L448.9 249.4L442.7 250.0L441.4 252.2L439.5 250.0L436.6 250.4L431.0 250.0L425.4 250.0L421.2 246.6L419.3 243.8Z" fill="#2c7fb8" stroke="#2c7fb8" stroke-width="0.7"/><path d="M419.7 240.9L423.5 238.1L431.0 235.7L440.4 236.2L447.9 237.6L455.5 238.1L457.0 238.1L459.2 242.4L459.2 247.0L454.0 248.5L448.9 249.4L442.7 250.0L441.4 252.2L439.5 250.0L436.6 250.4L431.0 250.0L425.4 250.0L421.2 246.6L419.3 243.8Z" fill="none" stroke="#5a6570" stroke-width="0.3" stroke-opacity="0.75"/>
<path d="M743.8 383.0L745.0 383.8L745.5 388.0L744.0 387.5Z" fill="#a1dab4" stroke="#a1dab4" stroke-width="0.7"/><path d="M743.8 383.0L745.0 383.8L745.5 388.0L744.0 387.5Z" fill="none" stroke="#5a6570" stroke-width="0.3" stroke-opacity="0.75"/>
<path d="M766.2 391.2L768.8 389.5L772.5 387.5L773.0 388.8L769.5 392.0L767.0 393.0Z" fill="#a1dab4" stroke="#a1dab4" stroke-width="0.7"/><path d="M766.2 391.2L768.8 389.5L772.5 387.5L773.0 388.8L769.5 392.0L767.0 393.0Z" fill="none" stroke="#5a6570" stroke-width="0.3" stroke-opacity="0.75"/>
<path d="M720.0 360.0L723.0 362.0L722.0 363.0L719.5 361.0Z" fill="#a1dab4" stroke="#a1dab4" stroke-width="0.7"/><path d="M720.0 360.0L723.0 362.0L722.0 363.0L719.5 361.0Z" fill="none" stroke="#5a6570" stroke-width="0.3" stroke-opacity="0.75"/>
<path d="M725.0 363.5L728.0 365.5L727.0 366.8L724.2 364.5Z" fill="#a1dab4" stroke="#a1dab4" stroke-width="0.7"/><path d="M725.0 363.5L728.0 365.5L727.0 366.8L724.2 364.5Z" fill="none" stroke="#5a6570" stroke-width="0.3" stroke-opacity="0.75"/>
<path d="M730.0 367.0L735.0 371.2L733.8 372.5L729.0 368.2Z" fill="#a1dab4" stroke="#a1dab4" stroke-width="0.7"/><path d="M730.0 367.0L735.0 371.2L733.8 372.5L729.0 368.2Z" fill="none" stroke="#5a6570" stroke-width="0.3" stroke-opacity="0.75"/>
<path d="M546.2 320.5L547.6 319.5L550.0 322.8L551.4 326.1L550.5 329.0L548.6 329.7L546.7 327.5L546.0 323.8Z" fill="#2c7fb8" stroke="#2c7fb8" stroke-width="0.7"/><path d="M546.2 320.5L547.6 319.5L550.0 322.8L551.4 326.1L550.5 329.0L548.6 329.7L546.7 327.5L546.0 323.8Z" fill="none" stroke="#5a6570" stroke-width="0.3" stroke-opacity="0.75"/>
<path d="M446.9 232.0L450.5 233.1L454.0 233.8L458.2 235.2L461.1 236.9L461.4 238.0L458.9 237.8L456.1 237.5L453.3 237.1L450.8 236.1L449.1 234.1Z" fill="#41b6c4" stroke="#41b6c4" stroke-width="0.7"/><path d="M446.9 232.0L450.5 233.1L454.0 233.8L458.2 235.2L461.1 236.9L461.4 238.0L458.9 237.8L456.1 237.5L453.3 237.1L450.8 236.1L449.1 234.1Z" fill="none" stroke="#5a6570" stroke-width="0.3" stroke-opacity="0.75"/>
<path d="M455.8 237.6L458.2 237.8L460.5 239.1L460.5 240.5L462.3 243.9L460.2 244.8L458.6 242.6L457.2 240.3L456.7 238.5Z" fill="#41b6c4" stroke="#41b6c4" stroke-width="0.7"/><path d="M455.8 237.6L458.2 237.8L460.5 239.1L460.5 240.5L462.3 243.9L460.2 244.8L458.6 242.6L457.2 240.3L456.7 238.5Z" fill="none" stroke="#5a6570" stroke-width="0.3" stroke-opacity="0.75"/>
<path d="M460.3 238.7L461.4 238.0L463.9 236.9L467.4 237.6L469.5 240.5L468.5 243.3L466.7 244.3L464.9 242.9L463.2 243.9L461.9 242.7L460.5 240.5Z" fill="#a1dab4" stroke="#a1dab4" stroke-width="0.7"/><path d="M460.3 238.7L461.4 238.0L463.9 236.9L467.4 237.6L469.5 240.5L468.5 243.3L466.7 244.3L464.9 242.9L463.2 243.9L461.9 242.7L460.5 240.5Z" fill="none" stroke="#5a6570" stroke-width="0.3" stroke-opacity="0.75"/>
</g>
<!--LEGEND-->
<g font-family="Liberation Sans, sans-serif" font-size="13.6" letter-spacing="0.1" fill="#5b5b5b">
<rect x="180.5" y="537.5" width="48" height="11" fill="none" stroke="#c4c4c4" stroke-width="1"/>
<line x1="204.5" y1="533" x2="204.5" y2="537" stroke="#999" stroke-width="0.6"/>
<text x="204.5" y="530" text-anchor="middle">No data</text>
<rect x="248" y="537" width="84" height="11.5" fill="#ffffcc"/>
<rect x="332" y="537" width="84" height="11.5" fill="#a1dab4"/>
<rect x="416" y="537" width="84" height="11.5" fill="#41b6c4"/>
<rect x="500" y="537" width="84.5" height="11.5" fill="#2c7fb8"/>
<path d="M584.5 537H664.5L669 542.75L664.5 548.5H584.5Z" fill="#253494"/>
<path d="M248 537H664.5L669 542.75L664.5 548.5H248Z" fill="none" stroke="#888" stroke-width="0.5"/>
<g stroke="#999" stroke-width="0.6"><line x1="248.3" y1="533" x2="248.3" y2="548"/><line x1="332" y1="533" x2="332" y2="548"/><line x1="416" y1="533" x2="416" y2="548"/><line x1="500" y1="533" x2="500" y2="548"/><line x1="584.5" y1="533" x2="584.5" y2="548"/></g>
<text x="240.5" y="530">$0</text>
<text x="332" y="530" text-anchor="middle">$30 million</text>
<text x="416" y="530" text-anchor="middle">$100 million</text>
<text x="500" y="530" text-anchor="middle">$300 million</text>
<text x="584.5" y="530" text-anchor="middle">$1 billion</text>
</g>
</svg>
<div class="ft" style="left:16px;letter-spacing:-0.12px"><b>Data source:</b> Organisation for Economic Co-operation and Development</div>
<div class="ft" style="right:18.5px">OurWorldinData.org/government-spending | CC BY</div>
</body></html>
